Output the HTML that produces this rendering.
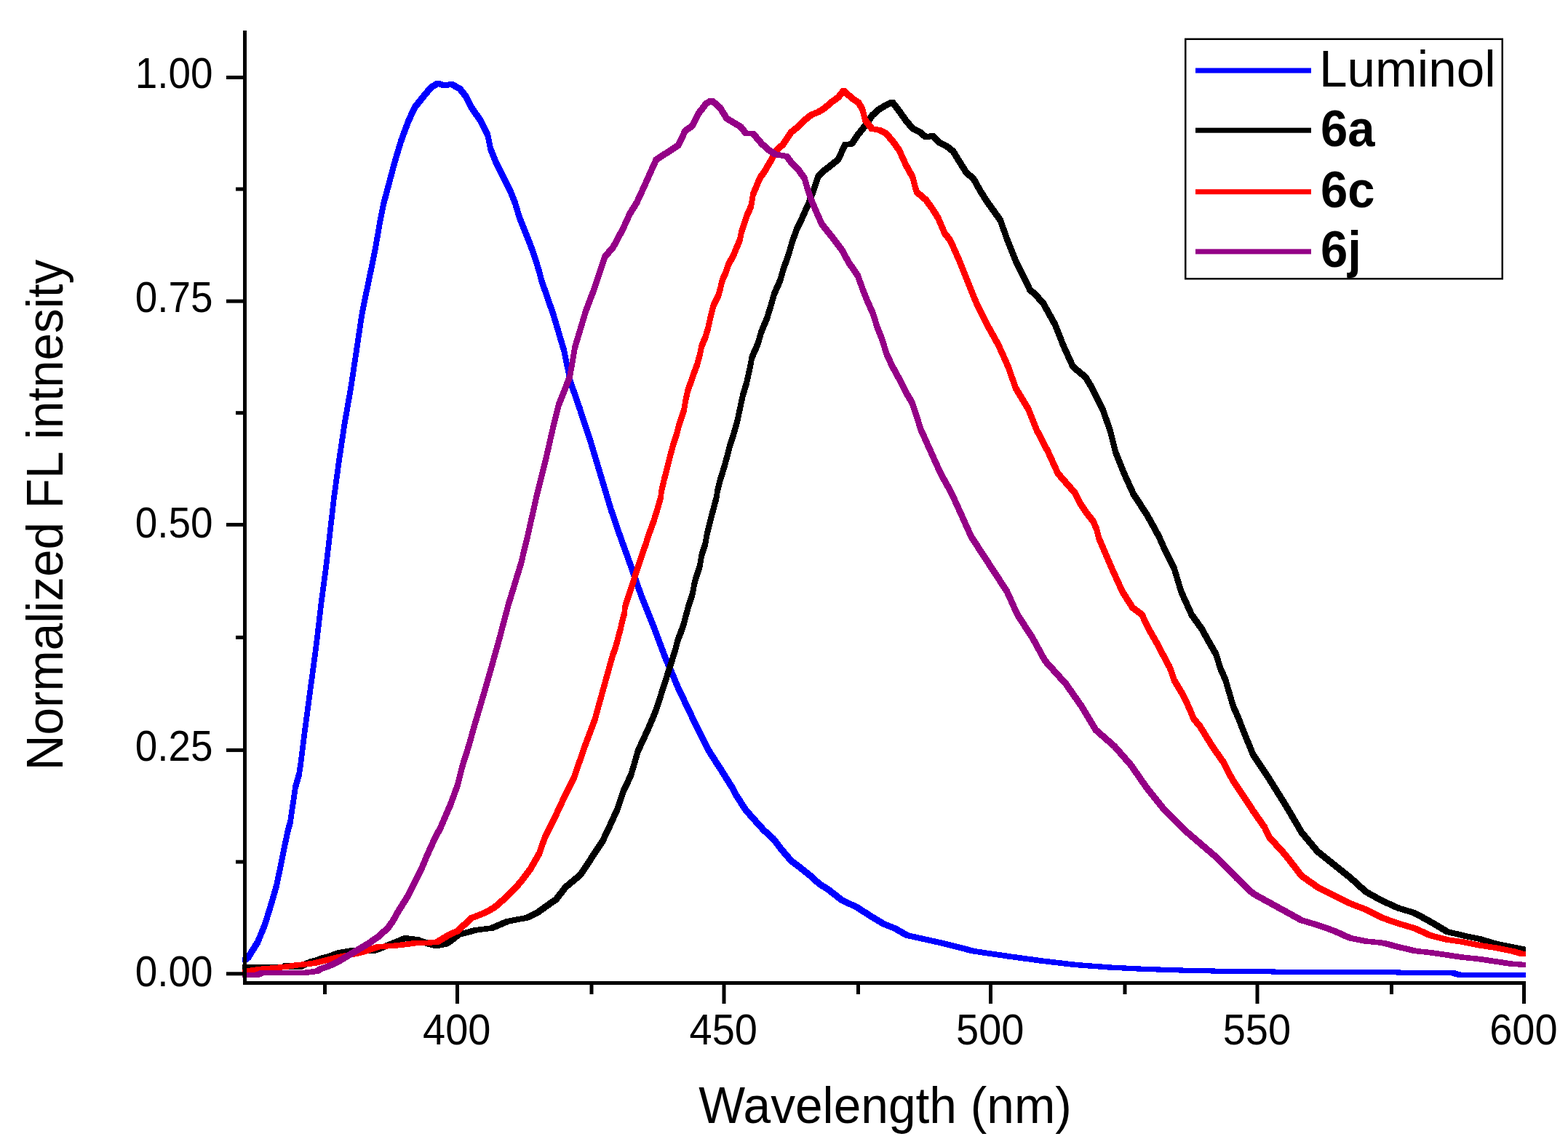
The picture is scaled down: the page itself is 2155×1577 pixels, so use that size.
<!DOCTYPE html>
<html><head><meta charset="utf-8"><title>Normalized FL intensity</title>
<style>html,body{margin:0;padding:0;background:#fff;}body{width:2155px;height:1577px;overflow:hidden;}svg{display:block;}text{font-family:"Liberation Sans",Arial,sans-serif;fill:#000;}</style></head><body>
<svg xmlns="http://www.w3.org/2000/svg" width="2155" height="1577" viewBox="0 0 2155 1577">
<rect x="0" y="0" width="2155" height="1577" fill="#fff"/>
<g shape-rendering="crispEdges">
<path d="M333 1317 333.5 1316.5 338 1313 344 1313 344.5 1313.5 344.5 1319.5 344 1320 339.5 1323.5 333.5 1323.5 333 1323ZM337.5 1313.5 344 1303 344.5 1302.5 350.5 1302.5 351 1303 351 1309 344.5 1319.5 344 1320 338 1320 337.5 1319.5ZM344 1303 350.9 1292 351.4 1291.5 357.4 1291.5 357.9 1292 357.9 1298 351 1309 350.5 1309.5 344.5 1309.5 344 1309ZM350.9 1292 361.1 1266.6 361.6 1266.1 367.6 1266.1 368.1 1266.6 368.1 1272.6 357.9 1298 357.4 1298.5 351.4 1298.5 350.9 1298ZM361.1 1266.6 368.9 1241.2 369.4 1240.7 375.4 1240.7 375.9 1241.2 375.9 1247.2 368.1 1272.6 367.6 1273.1 361.6 1273.1 361.1 1272.6ZM368.9 1241.2 376.3 1215.8 376.8 1215.3 382.8 1215.3 383.3 1215.8 383.3 1221.8 375.9 1247.2 375.4 1247.7 369.4 1247.7 368.9 1247.2ZM376.3 1215.8 381.6 1190.5 382.1 1190 388.1 1190 388.6 1190.5 388.6 1196.5 383.3 1221.8 382.8 1222.3 376.8 1222.3 376.3 1221.8ZM381.6 1190.5 386.7 1165 387.2 1164.5 393.2 1164.5 393.7 1165 393.7 1171 388.6 1196.5 388.1 1197 382.1 1197 381.6 1196.5ZM386.7 1165 392.1 1139.7 392.6 1139.2 398.6 1139.2 399.1 1139.7 399.1 1145.7 393.7 1171 393.2 1171.5 387.2 1171.5 386.7 1171ZM392.1 1139.7 395.5 1127 396 1126.5 402 1126.5 402.5 1127 402.5 1133 399.1 1145.7 398.6 1146.2 392.6 1146.2 392.1 1145.7ZM395.5 1127 402.5 1079 403 1078.5 409 1078.5 409.5 1079 409.5 1085 402.5 1133 402 1133.5 396 1133.5 395.5 1133ZM402.5 1079 407.5 1061.8 408 1061.3 414 1061.3 414.5 1061.8 414.5 1067.8 409.5 1085 409 1085.5 403 1085.5 402.5 1085ZM407.5 1061.8 409.8 1047 410.3 1046.5 416.3 1046.5 416.8 1047 416.8 1053 414.5 1067.8 414 1068.3 408 1068.3 407.5 1067.8ZM409.8 1047 415.3 1002.9 415.8 1002.4 421.8 1002.4 422.3 1002.9 422.3 1008.9 416.8 1053 416.3 1053.5 410.3 1053.5 409.8 1053ZM415.3 1002.9 423.2 943.9 423.7 943.4 429.7 943.4 430.2 943.9 430.2 949.9 422.3 1008.9 421.8 1009.4 415.8 1009.4 415.3 1008.9ZM423.2 943.9 431.1 885 431.6 884.5 437.6 884.5 438.1 885 438.1 891 430.2 949.9 429.7 950.4 423.7 950.4 423.2 949.9ZM431.1 885 438 826 438.5 825.5 444.5 825.5 445 826 445 832 438.1 891 437.6 891.5 431.6 891.5 431.1 891ZM438 826 445.2 772 445.7 771.5 451.7 771.5 452.2 772 452.2 778 445 832 444.5 832.5 438.5 832.5 438 832ZM445.2 772 449.7 732.1 450.2 731.6 456.2 731.6 456.7 732.1 456.7 738.1 452.2 778 451.7 778.5 445.7 778.5 445.2 778ZM449.7 732.1 455.5 681.4 456 680.9 462 680.9 462.5 681.4 462.5 687.4 456.7 738.1 456.2 738.6 450.2 738.6 449.7 738.1ZM455.5 681.4 462.4 630.6 462.9 630.1 468.9 630.1 469.4 630.6 469.4 636.6 462.5 687.4 462 687.9 456 687.9 455.5 687.4ZM462.4 630.6 470 579.9 470.5 579.4 476.5 579.4 477 579.9 477 585.9 469.4 636.6 468.9 637.1 462.9 637.1 462.4 636.6ZM470 579.9 478.9 529.2 479.4 528.7 485.4 528.7 485.9 529.2 485.9 535.2 477 585.9 476.5 586.4 470.5 586.4 470 585.9ZM478.9 529.2 486.5 478.5 487 478 493 478 493.5 478.5 493.5 484.5 485.9 535.2 485.4 535.7 479.4 535.7 478.9 535.2ZM486.5 478.5 494.1 427.7 494.6 427.2 500.6 427.2 501.1 427.7 501.1 433.7 493.5 484.5 493 485 487 485 486.5 484.5ZM494.1 427.7 503.5 382 504 381.5 510 381.5 510.5 382 510.5 388 501.1 433.7 500.6 434.2 494.6 434.2 494.1 433.7ZM503.5 382 507.5 362.8 508 362.3 514 362.3 514.5 362.8 514.5 368.8 510.5 388 510 388.5 504 388.5 503.5 388ZM507.5 362.8 513.2 334.3 513.7 333.8 519.7 333.8 520.2 334.3 520.2 340.3 514.5 368.8 514 369.3 508 369.3 507.5 368.8ZM513.2 334.3 518 305.8 518.5 305.3 524.5 305.3 525 305.8 525 311.8 520.2 340.3 519.7 340.8 513.7 340.8 513.2 340.3ZM518 305.8 523.7 277.2 524.2 276.7 530.2 276.7 530.7 277.2 530.7 283.2 525 311.8 524.5 312.3 518.5 312.3 518 311.8ZM523.7 277.2 531.3 248.7 531.8 248.2 537.8 248.2 538.3 248.7 538.3 254.7 530.7 283.2 530.2 283.7 524.2 283.7 523.7 283.2ZM531.3 248.7 538.9 220.2 539.4 219.7 545.4 219.7 545.9 220.2 545.9 226.2 538.3 254.7 537.8 255.2 531.8 255.2 531.3 254.7ZM538.9 220.2 547.4 191.6 547.9 191.1 553.9 191.1 554.4 191.6 554.4 197.6 545.9 226.2 545.4 226.7 539.4 226.7 538.9 226.2ZM547.4 191.6 557.9 163.1 558.4 162.6 564.4 162.6 564.9 163.1 564.9 169.1 554.4 197.6 553.9 198.1 547.9 198.1 547.4 197.6ZM557.9 163.1 566.9 144.1 567.4 143.6 573.4 143.6 573.9 144.1 573.9 150.1 564.9 169.1 564.4 169.6 558.4 169.6 557.9 169.1ZM566.9 144.1 579.2 128.8 579.7 128.3 585.7 128.3 586.2 128.8 586.2 134.8 573.9 150.1 573.4 150.6 567.4 150.6 566.9 150.1ZM579.2 128.8 588.7 117.4 589.2 116.9 595.2 116.9 595.7 117.4 595.7 123.4 586.2 134.8 585.7 135.3 579.7 135.3 579.2 134.8ZM588.7 117.4 589.2 116.9 598.7 111.2 604.7 111.2 605.2 111.7 605.2 117.7 604.7 118.2 595.2 123.9 589.2 123.9 588.7 123.4ZM598.2 111.7 598.7 111.2 604.7 111.2 614.3 114.1 614.8 114.6 614.8 120.6 614.3 121.1 608.3 121.1 598.7 118.2 598.2 117.7ZM607.8 114.6 608.3 114.1 617.8 112.2 623.8 112.2 624.3 112.7 624.3 118.7 623.8 119.2 614.3 121.1 608.3 121.1 607.8 120.6ZM617.3 112.7 617.8 112.2 623.8 112.2 635.2 118.8 635.7 119.3 635.7 125.3 635.2 125.8 629.2 125.8 617.8 119.2 617.3 118.7ZM628.7 119.3 629.2 118.8 635.2 118.8 635.7 119.3 643.3 128.8 643.3 134.8 642.8 135.3 636.8 135.3 636.3 134.8 628.7 125.3ZM636.3 128.8 636.8 128.3 642.8 128.3 643.3 128.8 650.9 144.1 650.9 150.1 650.4 150.6 644.4 150.6 643.9 150.1 636.3 134.8ZM643.9 144.1 644.4 143.6 650.4 143.6 650.9 144.1 664.2 163.1 664.2 169.1 663.7 169.6 657.7 169.6 657.2 169.1 643.9 150.1ZM657.2 163.1 657.7 162.6 663.7 162.6 664.2 163.1 673.7 182.1 673.7 188.1 673.2 188.6 667.2 188.6 666.7 188.1 657.2 169.1ZM666.7 182.1 667.2 181.6 673.2 181.6 673.7 182.1 677.5 201.1 677.5 207.1 677 207.6 671 207.6 670.5 207.1 666.7 188.1ZM670.5 201.1 671 200.6 677 200.6 677.5 201.1 685.1 220.2 685.1 226.2 684.6 226.7 678.6 226.7 678.1 226.2 670.5 207.1ZM678.1 220.2 678.6 219.7 684.6 219.7 685.1 220.2 694.6 239.2 694.6 245.2 694.1 245.7 688.1 245.7 687.6 245.2 678.1 226.2ZM687.6 239.2 688.1 238.7 694.1 238.7 694.6 239.2 704.2 258.2 704.2 264.2 703.7 264.7 697.7 264.7 697.2 264.2 687.6 245.2ZM697.2 258.2 697.7 257.7 703.7 257.7 704.2 258.2 711.8 277.2 711.8 283.2 711.3 283.7 705.3 283.7 704.8 283.2 697.2 264.2ZM704.8 277.2 705.3 276.7 711.3 276.7 711.8 277.2 717.5 296.2 717.5 302.2 717 302.7 711 302.7 710.5 302.2 704.8 283.2ZM710.5 296.2 711 295.7 717 295.7 717.5 296.2 725.1 315.3 725.1 321.3 724.6 321.8 718.6 321.8 718.1 321.3 710.5 302.2ZM718.1 315.3 718.6 314.8 724.6 314.8 725.1 315.3 732.7 334.3 732.7 340.3 732.2 340.8 726.2 340.8 725.7 340.3 718.1 321.3ZM725.7 334.3 726.2 333.8 732.2 333.8 732.7 334.3 739.4 353.3 739.4 359.3 738.9 359.8 732.9 359.8 732.4 359.3 725.7 340.3ZM732.4 353.3 732.9 352.8 738.9 352.8 739.4 353.3 745.1 372.3 745.1 378.3 744.6 378.8 738.6 378.8 738.1 378.3 732.4 359.3ZM738.1 372.3 738.6 371.8 744.6 371.8 745.1 372.3 747.5 382 747.5 388 747 388.5 741 388.5 740.5 388 738.1 378.3ZM740.5 382 741 381.5 747 381.5 747.5 382 763.4 427.7 763.4 433.7 762.9 434.2 756.9 434.2 756.4 433.7 740.5 388ZM756.4 427.7 756.9 427.2 762.9 427.2 763.4 427.7 778.6 478.5 778.6 484.5 778.1 485 772.1 485 771.6 484.5 756.4 433.7ZM771.6 478.5 772.1 478 778.1 478 778.6 478.5 787.5 522 787.5 528 787 528.5 781 528.5 780.5 528 771.6 484.5ZM780.5 522 781 521.5 787 521.5 787.5 522 800.6 559.7 800.6 565.7 800.1 566.2 794.1 566.2 793.6 565.7 780.5 528ZM793.6 559.7 794.1 559.2 800.1 559.2 800.6 559.7 815.5 605.4 815.5 611.4 815 611.9 809 611.9 808.5 611.4 793.6 565.7ZM808.5 605.4 809 604.9 815 604.9 815.5 605.4 829.2 651 829.2 657 828.7 657.5 822.7 657.5 822.2 657 808.5 611.4ZM822.2 651 822.7 650.5 828.7 650.5 829.2 651 842.9 696.7 842.9 702.7 842.4 703.2 836.4 703.2 835.9 702.7 822.2 657ZM835.9 696.7 836.4 696.2 842.4 696.2 842.9 696.7 855 732 855 738 854.5 738.5 848.5 738.5 848 738 835.9 702.7ZM848 732 848.5 731.5 854.5 731.5 855 732 868.7 770.1 868.7 776.1 868.2 776.6 862.2 776.6 861.7 776.1 848 738ZM861.7 770.1 862.2 769.6 868.2 769.6 868.7 770.1 883.8 813.2 883.8 819.2 883.3 819.7 877.3 819.7 876.8 819.2 861.7 776.1ZM876.8 813.2 877.3 812.7 883.3 812.7 883.8 813.2 901 856.4 901 862.4 900.5 862.9 894.5 862.9 894 862.4 876.8 819.2ZM894 856.4 894.5 855.9 900.5 855.9 901 856.4 917.2 899.5 917.2 905.5 916.7 906 910.7 906 910.2 905.5 894 862.4ZM910.2 899.5 910.7 899 916.7 899 917.2 899.5 935.5 942.6 935.5 948.6 935 949.1 929 949.1 928.5 948.6 910.2 905.5ZM928.5 942.6 929 942.1 935 942.1 935.5 942.6 956 985.7 956 991.7 955.5 992.2 949.5 992.2 949 991.7 928.5 948.6ZM949 985.7 949.5 985.2 955.5 985.2 956 985.7 977.5 1028.9 977.5 1034.9 977 1035.4 971 1035.4 970.5 1034.9 949 991.7ZM970.5 1028.9 971 1028.4 977 1028.4 977.5 1028.9 995.5 1057 995.5 1063 995 1063.5 989 1063.5 988.5 1063 970.5 1034.9ZM988.5 1057 989 1056.5 995 1056.5 995.5 1057 1009.5 1079.3 1009.5 1085.3 1009 1085.8 1003 1085.8 1002.5 1085.3 988.5 1063ZM1002.5 1079.3 1003 1078.8 1009 1078.8 1009.5 1079.3 1015.2 1090.2 1015.2 1096.2 1014.7 1096.7 1008.7 1096.7 1008.2 1096.2 1002.5 1085.3ZM1008.2 1090.2 1008.7 1089.7 1014.7 1089.7 1015.2 1090.2 1027.9 1109.9 1027.9 1115.9 1027.4 1116.4 1021.4 1116.4 1020.9 1115.9 1008.2 1096.2ZM1020.9 1109.9 1021.4 1109.4 1027.4 1109.4 1027.9 1109.9 1040.6 1124.5 1040.6 1130.5 1040.1 1131 1034.1 1131 1033.6 1130.5 1020.9 1115.9ZM1033.6 1124.5 1034.1 1124 1040.1 1124 1040.6 1124.5 1053.2 1138.4 1053.2 1144.4 1052.7 1144.9 1046.7 1144.9 1046.2 1144.4 1033.6 1130.5ZM1046.2 1138.4 1046.7 1137.9 1052.7 1137.9 1065.4 1149.3 1065.9 1149.8 1065.9 1155.8 1065.4 1156.3 1059.4 1156.3 1046.7 1144.9 1046.2 1144.4ZM1058.9 1149.8 1059.4 1149.3 1065.4 1149.3 1065.9 1149.8 1078.6 1166.3 1078.6 1172.3 1078.1 1172.8 1072.1 1172.8 1071.6 1172.3 1058.9 1155.8ZM1071.6 1166.3 1072.1 1165.8 1078.1 1165.8 1078.6 1166.3 1091.3 1180.9 1091.3 1186.9 1090.8 1187.4 1084.8 1187.4 1084.3 1186.9 1071.6 1172.3ZM1084.3 1180.9 1084.8 1180.4 1090.8 1180.4 1103.4 1189.9 1103.9 1190.4 1103.9 1196.4 1103.4 1196.9 1097.4 1196.9 1084.8 1187.4 1084.3 1186.9ZM1096.9 1190.4 1097.4 1189.9 1103.4 1189.9 1116.1 1200.1 1116.6 1200.6 1116.6 1206.6 1116.1 1207.1 1110.1 1207.1 1097.4 1196.9 1096.9 1196.4ZM1109.6 1200.6 1110.1 1200.1 1116.1 1200.1 1128.8 1211.5 1129.3 1212 1129.3 1218 1128.8 1218.5 1122.8 1218.5 1110.1 1207.1 1109.6 1206.6ZM1122.3 1212 1122.8 1211.5 1128.8 1211.5 1141.5 1219.7 1142 1220.2 1142 1226.2 1141.5 1226.7 1135.5 1226.7 1122.8 1218.5 1122.3 1218ZM1135 1220.2 1135.5 1219.7 1141.5 1219.7 1161 1234.8 1161.5 1235.3 1161.5 1241.3 1161 1241.8 1155 1241.8 1135.5 1226.7 1135 1226.2ZM1154.5 1235.3 1155 1234.8 1161 1234.8 1180 1243.4 1180.5 1243.9 1180.5 1249.9 1180 1250.4 1174 1250.4 1155 1241.8 1154.5 1241.3ZM1173.5 1243.9 1174 1243.4 1180 1243.4 1199 1255.7 1199.5 1256.2 1199.5 1262.2 1199 1262.7 1193 1262.7 1174 1250.4 1173.5 1249.9ZM1192.5 1256.2 1193 1255.7 1199 1255.7 1218 1267.1 1218.5 1267.6 1218.5 1273.6 1218 1274.1 1212 1274.1 1193 1262.7 1192.5 1262.2ZM1211.5 1267.6 1212 1267.1 1218 1267.1 1233 1272.9 1233.5 1273.4 1233.5 1279.4 1233 1279.9 1227 1279.9 1212 1274.1 1211.5 1273.6ZM1226.5 1273.4 1227 1272.9 1233 1272.9 1249 1282.3 1249.5 1282.8 1249.5 1288.8 1249 1289.3 1243 1289.3 1227 1279.9 1226.5 1279.4ZM1242.5 1282.8 1243 1282.3 1249 1282.3 1296 1292.8 1296.5 1293.3 1296.5 1299.3 1296 1299.8 1290 1299.8 1243 1289.3 1242.5 1288.8ZM1289.5 1293.3 1290 1292.8 1296 1292.8 1342 1304.4 1342.5 1304.9 1342.5 1310.9 1342 1311.4 1336 1311.4 1290 1299.8 1289.5 1299.3ZM1335.5 1304.9 1336 1304.4 1342 1304.4 1389 1311.3 1389.5 1311.8 1389.5 1317.8 1389 1318.3 1383 1318.3 1336 1311.4 1335.5 1310.9ZM1382.5 1311.8 1383 1311.3 1389 1311.3 1435 1317.6 1435.5 1318.1 1435.5 1324.1 1435 1324.6 1429 1324.6 1383 1318.3 1382.5 1317.8ZM1428.5 1318.1 1429 1317.6 1435 1317.6 1481 1323 1481.5 1323.5 1481.5 1329.5 1481 1330 1475 1330 1429 1324.6 1428.5 1324.1ZM1474.5 1323.5 1475 1323 1481 1323 1528 1326.5 1528.5 1327 1528.5 1333 1528 1333.5 1522 1333.5 1475 1330 1474.5 1329.5ZM1521.5 1327 1522 1326.5 1528 1326.5 1574 1328.8 1574.5 1329.3 1574.5 1335.3 1574 1335.8 1568 1335.8 1522 1333.5 1521.5 1333ZM1567.5 1329.3 1568 1328.8 1574 1328.8 1644 1331.1 1644.5 1331.6 1644.5 1337.6 1644 1338.1 1638 1338.1 1568 1335.8 1567.5 1335.3ZM1637.5 1331.6 1638 1331.1 1644 1331.1 1703 1332 1703.5 1332.5 1703.5 1338.5 1703 1339 1697 1339 1638 1338.1 1637.5 1337.6ZM1696.5 1332.5 1697 1332 1703 1332 1803 1333 1803.5 1333.5 1803.5 1339.5 1803 1340 1797 1340 1697 1339 1696.5 1338.5ZM1796.5 1333.5 1797 1333 1803 1333 1998 1333.8 1998.5 1334.3 1998.5 1340.3 1998 1340.8 1992 1340.8 1797 1340 1796.5 1339.5ZM1991.5 1334.3 1992 1333.8 1998 1333.8 2008 1336.5 2008.5 1337 2008.5 1343 2008 1343.5 2002 1343.5 1992 1340.8 1991.5 1340.3ZM2001.5 1337 2002 1336.5 2096.5 1336.5 2097 1337 2097 1343 2096.5 1343.5 2002 1343.5 2001.5 1343Z" fill="#0000ff"/>
<path d="M332.8 1326.6 333.3 1326.1 393 1326.1 393.5 1326.6 393.5 1332.6 393 1333.1 333.3 1333.1 332.8 1332.6ZM386.5 1326.6 387 1326.1 390 1323.5 396 1323.5 396.5 1324 396.5 1330 396 1330.5 393 1333.1 387 1333.1 386.5 1332.6ZM389.5 1324 390 1323.5 400.6 1323.5 401.1 1324 401.1 1330 400.6 1330.5 390 1330.5 389.5 1330ZM394.1 1324 394.6 1323.5 400.6 1323.5 401.1 1324 403.5 1326.6 403.5 1332.6 403 1333.1 397 1333.1 396.5 1332.6 394.1 1330ZM396.5 1326.6 397 1326.1 410 1325.5 416 1325.5 416.5 1326 416.5 1332 416 1332.5 403 1333.1 397 1333.1 396.5 1332.6ZM409.5 1326 410 1325.5 418 1321.3 424 1321.3 424.5 1321.8 424.5 1327.8 424 1328.3 416 1332.5 410 1332.5 409.5 1332ZM417.5 1321.8 418 1321.3 426 1318.3 432 1318.3 432.5 1318.8 432.5 1324.8 432 1325.3 424 1328.3 418 1328.3 417.5 1327.8ZM425.5 1318.8 426 1318.3 434 1316.1 440 1316.1 440.5 1316.6 440.5 1322.6 440 1323.1 432 1325.3 426 1325.3 425.5 1324.8ZM433.5 1316.6 434 1316.1 441 1313.4 447 1313.4 447.5 1313.9 447.5 1319.9 447 1320.4 440 1323.1 434 1323.1 433.5 1322.6ZM440.5 1313.9 441 1313.4 451 1311 457 1311 457.5 1311.5 457.5 1317.5 457 1318 447 1320.4 441 1320.4 440.5 1319.9ZM450.5 1311.5 451 1311 457 1308.5 463 1308.5 463.5 1309 463.5 1315 463 1315.5 457 1318 451 1318 450.5 1317.5ZM456.5 1309 457 1308.5 463.6 1306.3 469.6 1306.3 470.1 1306.8 470.1 1312.8 469.6 1313.3 463 1315.5 457 1315.5 456.5 1315ZM463.1 1306.8 463.6 1306.3 483.6 1302.9 489.6 1302.9 490.1 1303.4 490.1 1309.4 489.6 1309.9 469.6 1313.3 463.6 1313.3 463.1 1312.8ZM483.1 1303.4 483.6 1302.9 489.6 1302.9 516.2 1304 516.7 1304.5 516.7 1310.5 516.2 1311 510.2 1311 483.6 1309.9 483.1 1309.4ZM509.7 1304.5 510.2 1304 527 1297.5 533 1297.5 533.5 1298 533.5 1304 533 1304.5 516.2 1311 510.2 1311 509.7 1310.5ZM526.5 1298 527 1297.5 543.5 1290.9 549.5 1290.9 550 1291.4 550 1297.4 549.5 1297.9 533 1304.5 527 1304.5 526.5 1304ZM543 1291.4 543.5 1290.9 554.2 1286.3 560.2 1286.3 560.7 1286.8 560.7 1292.8 560.2 1293.3 549.5 1297.9 543.5 1297.9 543 1297.4ZM553.7 1286.8 554.2 1286.3 560.2 1286.3 576.1 1288.3 576.6 1288.8 576.6 1294.8 576.1 1295.3 570.1 1295.3 554.2 1293.3 553.7 1292.8ZM569.6 1288.8 570.1 1288.3 576.1 1288.3 593 1294.5 593.5 1295 593.5 1301 593 1301.5 587 1301.5 570.1 1295.3 569.6 1294.8ZM586.5 1295 587 1294.5 593 1294.5 602.8 1296.9 603.3 1297.4 603.3 1303.4 602.8 1303.9 596.8 1303.9 587 1301.5 586.5 1301ZM596.3 1297.4 596.8 1296.9 610.1 1294.3 616.1 1294.3 616.6 1294.8 616.6 1300.8 616.1 1301.3 602.8 1303.9 596.8 1303.9 596.3 1303.4ZM609.6 1294.8 610.1 1294.3 617 1289.6 623 1289.6 623.5 1290.1 623.5 1296.1 623 1296.6 616.1 1301.3 610.1 1301.3 609.6 1300.8ZM616.5 1290.1 617 1289.6 627 1281.5 633 1281.5 633.5 1282 633.5 1288 633 1288.5 623 1296.6 617 1296.6 616.5 1296.1ZM626.5 1282 627 1281.5 651.9 1275.1 657.9 1275.1 658.4 1275.6 658.4 1281.6 657.9 1282.1 633 1288.5 627 1288.5 626.5 1288ZM651.4 1275.6 651.9 1275.1 672.8 1272.6 678.8 1272.6 679.3 1273.1 679.3 1279.1 678.8 1279.6 657.9 1282.1 651.9 1282.1 651.4 1281.6ZM672.3 1273.1 672.8 1272.6 693.7 1263.6 699.7 1263.6 700.2 1264.1 700.2 1270.1 699.7 1270.6 678.8 1279.6 672.8 1279.6 672.3 1279.1ZM693.2 1264.1 693.7 1263.6 707.7 1260.8 713.7 1260.8 714.2 1261.3 714.2 1267.3 713.7 1267.8 699.7 1270.6 693.7 1270.6 693.2 1270.1ZM707.2 1261.3 707.7 1260.8 721.6 1258.3 727.6 1258.3 728.1 1258.8 728.1 1264.8 727.6 1265.3 713.7 1267.8 707.7 1267.8 707.2 1267.3ZM721.1 1258.8 721.6 1258.3 735.6 1251.2 741.6 1251.2 742.1 1251.7 742.1 1257.7 741.6 1258.2 727.6 1265.3 721.6 1265.3 721.1 1264.8ZM735.1 1251.7 735.6 1251.2 749.5 1241.2 755.5 1241.2 756 1241.7 756 1247.7 755.5 1248.2 741.6 1258.2 735.6 1258.2 735.1 1257.7ZM749 1241.7 749.5 1241.2 761 1233.4 767 1233.4 767.5 1233.9 767.5 1239.9 767 1240.4 755.5 1248.2 749.5 1248.2 749 1247.7ZM760.5 1233.9 773.9 1216.7 774.4 1216.2 780.4 1216.2 780.9 1216.7 780.9 1222.7 767.5 1239.9 767 1240.4 761 1240.4 760.5 1239.9ZM773.9 1216.7 774.4 1216.2 794.9 1199.1 800.9 1199.1 801.4 1199.6 801.4 1205.6 800.9 1206.1 780.4 1223.2 774.4 1223.2 773.9 1222.7ZM794.4 1199.6 809.3 1176.8 809.8 1176.3 815.8 1176.3 816.3 1176.8 816.3 1182.8 801.4 1205.6 800.9 1206.1 794.9 1206.1 794.4 1205.6ZM809.3 1176.8 824.4 1154 824.9 1153.5 830.9 1153.5 831.4 1154 831.4 1160 816.3 1182.8 815.8 1183.3 809.8 1183.3 809.3 1182.8ZM824.4 1154 835.2 1131.2 835.7 1130.7 841.7 1130.7 842.2 1131.2 842.2 1137.2 831.4 1160 830.9 1160.5 824.9 1160.5 824.4 1160ZM835.2 1131.2 845.5 1108.3 846 1107.8 852 1107.8 852.5 1108.3 852.5 1114.3 842.2 1137.2 841.7 1137.7 835.7 1137.7 835.2 1137.2ZM845.5 1108.3 852.9 1085.5 853.4 1085 859.4 1085 859.9 1085.5 859.9 1091.5 852.5 1114.3 852 1114.8 846 1114.8 845.5 1114.3ZM852.9 1085.5 863.7 1062.7 864.2 1062.2 870.2 1062.2 870.7 1062.7 870.7 1068.7 859.9 1091.5 859.4 1092 853.4 1092 852.9 1091.5ZM863.7 1062.7 873.5 1028.9 874 1028.4 880 1028.4 880.5 1028.9 880.5 1034.9 870.7 1068.7 870.2 1069.2 864.2 1069.2 863.7 1068.7ZM873.5 1028.9 879.9 1015.5 880.4 1015 886.4 1015 886.9 1015.5 886.9 1021.5 880.5 1034.9 880 1035.4 874 1035.4 873.5 1034.9ZM879.9 1015.5 889.6 994 890.1 993.5 896.1 993.5 896.6 994 896.6 1000 886.9 1021.5 886.4 1022 880.4 1022 879.9 1021.5ZM889.6 994 898.5 972.4 899 971.9 905 971.9 905.5 972.4 905.5 978.4 896.6 1000 896.1 1000.5 890.1 1000.5 889.6 1000ZM898.5 972.4 908 942.6 908.5 942.1 914.5 942.1 915 942.6 915 948.6 905.5 978.4 905 978.9 899 978.9 898.5 978.4ZM908 942.6 924.3 891.7 924.8 891.2 930.8 891.2 931.3 891.7 931.3 897.7 915 948.6 914.5 949.1 908.5 949.1 908 948.6ZM924.3 891.7 928.1 877 928.6 876.5 934.6 876.5 935.1 877 935.1 883 931.3 897.7 930.8 898.2 924.8 898.2 924.3 897.7ZM928.1 877 932.5 865.5 933 865 939 865 939.5 865.5 939.5 871.5 935.1 883 934.6 883.5 928.6 883.5 928.1 883ZM932.5 865.5 936.5 854.1 937 853.6 943 853.6 943.5 854.1 943.5 860.1 939.5 871.5 939 872 933 872 932.5 871.5ZM936.5 854.1 938.9 844.6 939.4 844.1 945.4 844.1 945.9 844.6 945.9 850.6 943.5 860.1 943 860.6 937 860.6 936.5 860.1ZM938.9 844.6 942.8 830.3 943.3 829.8 949.3 829.8 949.8 830.3 949.8 836.3 945.9 850.6 945.4 851.1 939.4 851.1 938.9 850.6ZM942.8 830.3 948 815 948.5 814.5 954.5 814.5 955 815 955 821 949.8 836.3 949.3 836.8 943.3 836.8 942.8 836.3ZM948 815 950.8 799.8 951.3 799.3 957.3 799.3 957.8 799.8 957.8 805.8 955 821 954.5 821.5 948.5 821.5 948 821ZM950.8 799.8 953 791.2 953.5 790.7 959.5 790.7 960 791.2 960 797.2 957.8 805.8 957.3 806.3 951.3 806.3 950.8 805.8ZM953 791.2 958.1 775.9 958.6 775.4 964.6 775.4 965.1 775.9 965.1 781.9 960 797.2 959.5 797.7 953.5 797.7 953 797.2ZM958.1 775.9 960.8 760.7 961.3 760.2 967.3 760.2 967.8 760.7 967.8 766.7 965.1 781.9 964.6 782.4 958.6 782.4 958.1 781.9ZM960.8 760.7 965.7 745.5 966.2 745 972.2 745 972.7 745.5 972.7 751.5 967.8 766.7 967.3 767.2 961.3 767.2 960.8 766.7ZM965.7 745.5 968.4 730.3 968.9 729.8 974.9 729.8 975.4 730.3 975.4 736.3 972.7 751.5 972.2 752 966.2 752 965.7 751.5ZM968.4 730.3 972.2 715 972.7 714.5 978.7 714.5 979.2 715 979.2 721 975.4 736.3 974.9 736.8 968.9 736.8 968.4 736.3ZM972.2 715 976.2 699.8 976.7 699.3 982.7 699.3 983.2 699.8 983.2 705.8 979.2 721 978.7 721.5 972.7 721.5 972.2 721ZM976.2 699.8 981.3 680.8 981.8 680.3 987.8 680.3 988.3 680.8 988.3 686.8 983.2 705.8 982.7 706.3 976.7 706.3 976.2 705.8ZM981.3 680.8 982.7 671.2 983.2 670.7 989.2 670.7 989.7 671.2 989.7 677.2 988.3 686.8 987.8 687.3 981.8 687.3 981.3 686.8ZM982.7 671.2 986.5 655.9 987 655.4 993 655.4 993.5 655.9 993.5 661.9 989.7 677.2 989.2 677.7 983.2 677.7 982.7 677.2ZM986.5 655.9 991.4 640.7 991.9 640.2 997.9 640.2 998.4 640.7 998.4 646.7 993.5 661.9 993 662.4 987 662.4 986.5 661.9ZM991.4 640.7 995.6 625.5 996.1 625 1002.1 625 1002.6 625.5 1002.6 631.5 998.4 646.7 997.9 647.2 991.9 647.2 991.4 646.7ZM995.6 625.5 999.4 610.3 999.9 609.8 1005.9 609.8 1006.4 610.3 1006.4 616.3 1002.6 631.5 1002.1 632 996.1 632 995.6 631.5ZM999.4 610.3 1004.4 595 1004.9 594.5 1010.9 594.5 1011.4 595 1011.4 601 1006.4 616.3 1005.9 616.8 999.9 616.8 999.4 616.3ZM1004.4 595 1008.9 579.8 1009.4 579.3 1015.4 579.3 1015.9 579.8 1015.9 585.8 1011.4 601 1010.9 601.5 1004.9 601.5 1004.4 601ZM1008.9 579.8 1013.1 560.8 1013.6 560.3 1019.6 560.3 1020.1 560.8 1020.1 566.8 1015.9 585.8 1015.4 586.3 1009.4 586.3 1008.9 585.8ZM1013.1 560.8 1017.2 541.3 1017.7 540.8 1023.7 540.8 1024.2 541.3 1024.2 547.3 1020.1 566.8 1019.6 567.3 1013.6 567.3 1013.1 566.8ZM1017.2 541.3 1022.5 523.6 1023 523.1 1029 523.1 1029.5 523.6 1029.5 529.6 1024.2 547.3 1023.7 547.8 1017.7 547.8 1017.2 547.3ZM1022.5 523.6 1026.5 505.8 1027 505.3 1033 505.3 1033.5 505.8 1033.5 511.8 1029.5 529.6 1029 530.1 1023 530.1 1022.5 529.6ZM1026.5 505.8 1030 488 1030.5 487.5 1036.5 487.5 1037 488 1037 494 1033.5 511.8 1033 512.3 1027 512.3 1026.5 511.8ZM1030 488 1037.8 470.3 1038.3 469.8 1044.3 469.8 1044.8 470.3 1044.8 476.3 1037 494 1036.5 494.5 1030.5 494.5 1030 494ZM1037.8 470.3 1043.1 452.5 1043.6 452 1049.6 452 1050.1 452.5 1050.1 458.5 1044.8 476.3 1044.3 476.8 1038.3 476.8 1037.8 476.3ZM1043.1 452.5 1050.5 434.8 1051 434.3 1057 434.3 1057.5 434.8 1057.5 440.8 1050.1 458.5 1049.6 459 1043.6 459 1043.1 458.5ZM1050.5 434.8 1054.7 421.4 1055.2 420.9 1061.2 420.9 1061.7 421.4 1061.7 427.4 1057.5 440.8 1057 441.3 1051 441.3 1050.5 440.8ZM1054.7 421.4 1060.5 401.3 1061 400.8 1067 400.8 1067.5 401.3 1067.5 407.3 1061.7 427.4 1061.2 427.9 1055.2 427.9 1054.7 427.4ZM1060.5 401.3 1068.3 383.6 1068.8 383.1 1074.8 383.1 1075.3 383.6 1075.3 389.6 1067.5 407.3 1067 407.8 1061 407.8 1060.5 407.3ZM1068.3 383.6 1073.6 365.8 1074.1 365.3 1080.1 365.3 1080.6 365.8 1080.6 371.8 1075.3 389.6 1074.8 390.1 1068.8 390.1 1068.3 389.6ZM1073.6 365.8 1080 348 1080.5 347.5 1086.5 347.5 1087 348 1087 354 1080.6 371.8 1080.1 372.3 1074.1 372.3 1073.6 371.8ZM1080 348 1085.1 330.3 1085.6 329.8 1091.6 329.8 1092.1 330.3 1092.1 336.3 1087 354 1086.5 354.5 1080.5 354.5 1080 354ZM1085.1 330.3 1091.4 312.5 1091.9 312 1097.9 312 1098.4 312.5 1098.4 318.5 1092.1 336.3 1091.6 336.8 1085.6 336.8 1085.1 336.3ZM1091.4 312.5 1099.8 294.8 1100.3 294.3 1106.3 294.3 1106.8 294.8 1106.8 300.8 1098.4 318.5 1097.9 319 1091.9 319 1091.4 318.5ZM1099.8 294.8 1107.5 277.5 1108 277 1114 277 1114.5 277.5 1114.5 283.5 1106.8 300.8 1106.3 301.3 1100.3 301.3 1099.8 300.8ZM1107.5 277.5 1115.2 257 1115.7 256.5 1121.7 256.5 1122.2 257 1122.2 263 1114.5 283.5 1114 284 1108 284 1107.5 283.5ZM1115.2 257 1120.7 240.3 1121.2 239.8 1127.2 239.8 1127.7 240.3 1127.7 246.3 1122.2 263 1121.7 263.5 1115.7 263.5 1115.2 263ZM1120.7 240.3 1130 231 1130.5 230.5 1136.5 230.5 1137 231 1137 237 1127.7 246.3 1127.2 246.8 1121.2 246.8 1120.7 246.3ZM1130 231 1130.5 230.5 1139.8 223.1 1145.8 223.1 1146.3 223.6 1146.3 229.6 1145.8 230.1 1136.5 237.5 1130.5 237.5 1130 237ZM1139.3 223.6 1139.8 223.1 1149.1 215.7 1155.1 215.7 1155.6 216.2 1155.6 222.2 1155.1 222.7 1145.8 230.1 1139.8 230.1 1139.3 229.6ZM1148.6 216.2 1157.9 195.8 1158.4 195.3 1164.4 195.3 1164.9 195.8 1164.9 201.8 1155.6 222.2 1155.1 222.7 1149.1 222.7 1148.6 222.2ZM1157.9 195.8 1158.4 195.3 1167.6 194.4 1173.6 194.4 1174.1 194.9 1174.1 200.9 1173.6 201.4 1164.4 202.3 1158.4 202.3 1157.9 201.8ZM1167.1 194.9 1176.5 181 1177 180.5 1183 180.5 1183.5 181 1183.5 187 1174.1 200.9 1173.6 201.4 1167.6 201.4 1167.1 200.9ZM1176.5 181 1185.7 169.8 1186.2 169.3 1192.2 169.3 1192.7 169.8 1192.7 175.8 1183.5 187 1183 187.5 1177 187.5 1176.5 187ZM1185.7 169.8 1195 155.9 1195.5 155.4 1201.5 155.4 1202 155.9 1202 161.9 1192.7 175.8 1192.2 176.3 1186.2 176.3 1185.7 175.8ZM1195 155.9 1195.5 155.4 1204.8 147 1210.8 147 1211.3 147.5 1211.3 153.5 1210.8 154 1201.5 162.4 1195.5 162.4 1195 161.9ZM1204.3 147.5 1204.8 147 1214 141.5 1220 141.5 1220.5 142 1220.5 148 1220 148.5 1210.8 154 1204.8 154 1204.3 153.5ZM1213.5 142 1214 141.5 1223.3 136.8 1229.3 136.8 1229.8 137.3 1229.8 143.3 1229.3 143.8 1220 148.5 1214 148.5 1213.5 148ZM1222.8 137.3 1223.3 136.8 1229.3 136.8 1229.8 137.3 1239.1 149.4 1239.1 155.4 1238.6 155.9 1232.6 155.9 1232.1 155.4 1222.8 143.3ZM1232.1 149.4 1232.6 148.9 1238.6 148.9 1239.1 149.4 1248.4 162.4 1248.4 168.4 1247.9 168.9 1241.9 168.9 1241.4 168.4 1232.1 155.4ZM1241.4 162.4 1241.9 161.9 1247.9 161.9 1248.4 162.4 1257.7 173.5 1257.7 179.5 1257.2 180 1251.2 180 1250.7 179.5 1241.4 168.4ZM1250.7 173.5 1251.2 173 1257.2 173 1266.5 177.7 1267 178.2 1267 184.2 1266.5 184.7 1260.5 184.7 1251.2 180 1250.7 179.5ZM1260 178.2 1260.5 177.7 1266.5 177.7 1275.7 185.1 1276.2 185.6 1276.2 191.6 1275.7 192.1 1269.7 192.1 1260.5 184.7 1260 184.2ZM1269.2 185.6 1269.7 185.1 1279 183.2 1285 183.2 1285.5 183.7 1285.5 189.7 1285 190.2 1275.7 192.1 1269.7 192.1 1269.2 191.6ZM1278.5 183.7 1279 183.2 1285 183.2 1285.5 183.7 1294.8 193 1294.8 199 1294.3 199.5 1288.3 199.5 1287.8 199 1278.5 189.7ZM1287.8 193 1288.3 192.5 1294.3 192.5 1303.6 197.1 1304.1 197.6 1304.1 203.6 1303.6 204.1 1297.6 204.1 1288.3 199.5 1287.8 199ZM1297.1 197.6 1297.6 197.1 1303.6 197.1 1312.9 204.5 1313.4 205 1313.4 211 1312.9 211.5 1306.9 211.5 1297.6 204.1 1297.1 203.6ZM1306.4 205 1306.9 204.5 1312.9 204.5 1313.4 205 1322.6 220 1322.6 226 1322.1 226.5 1316.1 226.5 1315.6 226 1306.4 211ZM1315.6 220 1316.1 219.5 1322.1 219.5 1322.6 220 1331.9 234.8 1331.9 240.8 1331.4 241.3 1325.4 241.3 1324.9 240.8 1315.6 226ZM1324.9 234.8 1325.4 234.3 1331.4 234.3 1340.7 241.7 1341.2 242.2 1341.2 248.2 1340.7 248.7 1334.7 248.7 1325.4 241.3 1324.9 240.8ZM1334.2 242.2 1334.7 241.7 1340.7 241.7 1341.2 242.2 1350.5 258.9 1350.5 264.9 1350 265.4 1344 265.4 1343.5 264.9 1334.2 248.2ZM1343.5 258.9 1344 258.4 1350 258.4 1350.5 258.9 1359.8 273.8 1359.8 279.8 1359.3 280.3 1353.3 280.3 1352.8 279.8 1343.5 264.9ZM1352.8 273.8 1353.3 273.3 1359.3 273.3 1359.8 273.8 1369 286.7 1369 292.7 1368.5 293.2 1362.5 293.2 1362 292.7 1352.8 279.8ZM1362 286.7 1362.5 286.2 1368.5 286.2 1369 286.7 1378.3 299.7 1378.3 305.7 1377.8 306.2 1371.8 306.2 1371.3 305.7 1362 292.7ZM1371.3 299.7 1371.8 299.2 1377.8 299.2 1378.3 299.7 1387.7 326.2 1387.7 332.2 1387.2 332.7 1381.2 332.7 1380.7 332.2 1371.3 305.7ZM1380.7 326.2 1381.2 325.7 1387.2 325.7 1387.7 326.2 1399.3 355.3 1399.3 361.3 1398.8 361.8 1392.8 361.8 1392.3 361.3 1380.7 332.2ZM1392.3 355.3 1392.8 354.8 1398.8 354.8 1399.3 355.3 1413.9 384.5 1413.9 390.5 1413.4 391 1407.4 391 1406.9 390.5 1392.3 361.3ZM1406.9 384.5 1407.4 384 1413.4 384 1413.9 384.5 1418.6 394.8 1418.6 400.8 1418.1 401.3 1412.1 401.3 1411.6 400.8 1406.9 390.5ZM1411.6 394.8 1412.1 394.3 1418.1 394.3 1427.4 403.1 1427.9 403.6 1427.9 409.6 1427.4 410.1 1421.4 410.1 1412.1 401.3 1411.6 400.8ZM1420.9 403.6 1421.4 403.1 1427.4 403.1 1427.9 403.6 1437.2 413.7 1437.2 419.7 1436.7 420.2 1430.7 420.2 1430.2 419.7 1420.9 409.6ZM1430.2 413.7 1430.7 413.2 1436.7 413.2 1437.2 413.7 1453.3 442.8 1453.3 448.8 1452.8 449.3 1446.8 449.3 1446.3 448.8 1430.2 419.7ZM1446.3 442.8 1446.8 442.3 1452.8 442.3 1453.3 442.8 1464.9 472 1464.9 478 1464.4 478.5 1458.4 478.5 1457.9 478 1446.3 448.8ZM1457.9 472 1458.4 471.5 1464.4 471.5 1464.9 472 1478.1 501.1 1478.1 507.1 1477.6 507.6 1471.6 507.6 1471.1 507.1 1457.9 478ZM1471.1 501.1 1471.6 500.6 1477.6 500.6 1495 515.2 1495.5 515.7 1495.5 521.7 1495 522.2 1489 522.2 1471.6 507.6 1471.1 507.1ZM1488.5 515.7 1489 515.2 1495 515.2 1495.5 515.7 1504.3 530.3 1504.3 536.3 1503.8 536.8 1497.8 536.8 1497.3 536.3 1488.5 521.7ZM1497.3 530.3 1497.8 529.8 1503.8 529.8 1504.3 530.3 1518.9 559.5 1518.9 565.5 1518.4 566 1512.4 566 1511.9 565.5 1497.3 536.3ZM1511.9 559.5 1512.4 559 1518.4 559 1518.9 559.5 1529.1 588.6 1529.1 594.6 1528.6 595.1 1522.6 595.1 1522.1 594.6 1511.9 565.5ZM1522.1 588.6 1522.6 588.1 1528.6 588.1 1529.1 588.6 1536.4 617.8 1536.4 623.8 1535.9 624.3 1529.9 624.3 1529.4 623.8 1522.1 594.6ZM1529.4 617.8 1529.9 617.3 1535.9 617.3 1536.4 617.8 1548 647 1548 653 1547.5 653.5 1541.5 653.5 1541 653 1529.4 623.8ZM1541 647 1541.5 646.5 1547.5 646.5 1548 647 1561.2 676.1 1561.2 682.1 1560.7 682.6 1554.7 682.6 1554.2 682.1 1541 653ZM1554.2 676.1 1554.7 675.6 1560.7 675.6 1561.2 676.1 1580.1 705.3 1580.1 711.3 1579.6 711.8 1573.6 711.8 1573.1 711.3 1554.2 682.1ZM1573.1 705.3 1573.6 704.8 1579.6 704.8 1580.1 705.3 1596.2 734.4 1596.2 740.4 1595.7 740.9 1589.7 740.9 1589.2 740.4 1573.1 711.3ZM1589.2 734.4 1589.7 733.9 1595.7 733.9 1596.2 734.4 1604 752 1604 758 1603.5 758.5 1597.5 758.5 1597 758 1589.2 740.4ZM1597 752 1597.5 751.5 1603.5 751.5 1604 752 1617.3 778.7 1617.3 784.7 1616.8 785.2 1610.8 785.2 1610.3 784.7 1597 758ZM1610.3 778.7 1610.8 778.2 1616.8 778.2 1617.3 778.7 1626.8 810.4 1626.8 816.4 1626.3 816.9 1620.3 816.9 1619.8 816.4 1610.3 784.7ZM1619.8 810.4 1620.3 809.9 1626.3 809.9 1626.8 810.4 1641.1 842 1641.1 848 1640.6 848.5 1634.6 848.5 1634.1 848 1619.8 816.4ZM1634.1 842 1634.6 841.5 1640.6 841.5 1641.1 842 1655 861.4 1655 867.4 1654.5 867.9 1648.5 867.9 1648 867.4 1634.1 848ZM1648 861.4 1648.5 860.9 1654.5 860.9 1655 861.4 1664.8 879.2 1664.8 885.2 1664.3 885.7 1658.3 885.7 1657.8 885.2 1648 867.4ZM1657.8 879.2 1658.3 878.7 1664.3 878.7 1664.8 879.2 1675 896.9 1675 902.9 1674.5 903.4 1668.5 903.4 1668 902.9 1657.8 885.2ZM1668 896.9 1668.5 896.4 1674.5 896.4 1675 896.9 1680.3 914.7 1680.3 920.7 1679.8 921.2 1673.8 921.2 1673.3 920.7 1668 902.9ZM1673.3 914.7 1673.8 914.2 1679.8 914.2 1680.3 914.7 1687.9 932.4 1687.9 938.4 1687.4 938.9 1681.4 938.9 1680.9 938.4 1673.3 920.7ZM1680.9 932.4 1681.4 931.9 1687.4 931.9 1687.9 932.4 1693.2 950.2 1693.2 956.2 1692.7 956.7 1686.7 956.7 1686.2 956.2 1680.9 938.4ZM1686.2 950.2 1686.7 949.7 1692.7 949.7 1693.2 950.2 1698.3 967.9 1698.3 973.9 1697.8 974.4 1691.8 974.4 1691.3 973.9 1686.2 956.2ZM1691.3 967.9 1691.8 967.4 1697.8 967.4 1698.3 967.9 1706.1 985.7 1706.1 991.7 1705.6 992.2 1699.6 992.2 1699.1 991.7 1691.3 973.9ZM1699.1 985.7 1699.6 985.2 1705.6 985.2 1706.1 985.7 1709.4 994.5 1709.4 1000.5 1708.9 1001 1702.9 1001 1702.4 1000.5 1699.1 991.7ZM1702.4 994.5 1702.9 994 1708.9 994 1709.4 994.5 1725.7 1034.7 1725.7 1040.7 1725.2 1041.2 1719.2 1041.2 1718.7 1040.7 1702.4 1000.5ZM1718.7 1034.7 1719.2 1034.2 1725.2 1034.2 1725.7 1034.7 1747.9 1068 1747.9 1074 1747.4 1074.5 1741.4 1074.5 1740.9 1074 1718.7 1040.7ZM1740.9 1068 1741.4 1067.5 1747.4 1067.5 1747.9 1068 1770.1 1103.5 1770.1 1109.5 1769.6 1110 1763.6 1110 1763.1 1109.5 1740.9 1074ZM1763.1 1103.5 1763.6 1103 1769.6 1103 1770.1 1103.5 1792.3 1141.3 1792.3 1147.3 1791.8 1147.8 1785.8 1147.8 1785.3 1147.3 1763.1 1109.5ZM1785.3 1141.3 1785.8 1140.8 1791.8 1140.8 1792.3 1141.3 1814.5 1168 1814.5 1174 1814 1174.5 1808 1174.5 1807.5 1174 1785.3 1147.3ZM1807.5 1168 1808 1167.5 1814 1167.5 1836.2 1185.2 1836.7 1185.7 1836.7 1191.7 1836.2 1192.2 1830.2 1192.2 1808 1174.5 1807.5 1174ZM1829.7 1185.7 1830.2 1185.2 1836.2 1185.2 1858.4 1202.9 1858.9 1203.4 1858.9 1209.4 1858.4 1209.9 1852.4 1209.9 1830.2 1192.2 1829.7 1191.7ZM1851.9 1203.4 1852.4 1202.9 1858.4 1202.9 1880.6 1222.9 1881.1 1223.4 1881.1 1229.4 1880.6 1229.9 1874.6 1229.9 1852.4 1209.9 1851.9 1209.4ZM1874.1 1223.4 1874.6 1222.9 1880.6 1222.9 1902.8 1235.1 1903.3 1235.6 1903.3 1241.6 1902.8 1242.1 1896.8 1242.1 1874.6 1229.9 1874.1 1229.4ZM1896.3 1235.6 1896.8 1235.1 1902.8 1235.1 1925 1245.1 1925.5 1245.6 1925.5 1251.6 1925 1252.1 1919 1252.1 1896.8 1242.1 1896.3 1241.6ZM1918.5 1245.6 1919 1245.1 1925 1245.1 1947.2 1251.8 1947.7 1252.3 1947.7 1258.3 1947.2 1258.8 1941.2 1258.8 1919 1252.1 1918.5 1251.6ZM1940.7 1252.3 1941.2 1251.8 1947.2 1251.8 1969.4 1264 1969.9 1264.5 1969.9 1270.5 1969.4 1271 1963.4 1271 1941.2 1258.8 1940.7 1258.3ZM1962.9 1264.5 1963.4 1264 1969.4 1264 1991.6 1277.3 1992.1 1277.8 1992.1 1283.8 1991.6 1284.3 1985.6 1284.3 1963.4 1271 1962.9 1270.5ZM1985.1 1277.8 1985.6 1277.3 1991.6 1277.3 2013.8 1282.8 2014.3 1283.3 2014.3 1289.3 2013.8 1289.8 2007.8 1289.8 1985.6 1284.3 1985.1 1283.8ZM2007.3 1283.3 2007.8 1282.8 2013.8 1282.8 2036 1287.3 2036.5 1287.8 2036.5 1293.8 2036 1294.3 2030 1294.3 2007.8 1289.8 2007.3 1289.3ZM2029.5 1287.8 2030 1287.3 2036 1287.3 2058.2 1293.9 2058.7 1294.4 2058.7 1300.4 2058.2 1300.9 2052.2 1300.9 2030 1294.3 2029.5 1293.8ZM2051.7 1294.4 2052.2 1293.9 2058.2 1293.9 2080.4 1298.4 2080.9 1298.9 2080.9 1304.9 2080.4 1305.4 2074.4 1305.4 2052.2 1300.9 2051.7 1300.4ZM2073.9 1298.9 2074.4 1298.4 2080.4 1298.4 2096.5 1301.7 2097 1302.2 2097 1308.2 2096.5 1308.7 2090.5 1308.7 2074.4 1305.4 2073.9 1304.9Z" fill="#000000"/>
<path d="M332.8 1333.8 333.3 1333.3 341 1330.9 347 1330.9 347.5 1331.4 347.5 1337.4 347 1337.9 339.3 1340.3 333.3 1340.3 332.8 1339.8ZM340.5 1331.4 341 1330.9 359 1328.5 365 1328.5 365.5 1329 365.5 1335 365 1335.5 347 1337.9 341 1337.9 340.5 1337.4ZM358.5 1329 359 1328.5 387 1326.1 393 1326.1 393.5 1326.6 393.5 1332.6 393 1333.1 365 1335.5 359 1335.5 358.5 1335ZM386.5 1326.6 387 1326.1 405 1323.4 411 1323.4 411.5 1323.9 411.5 1329.9 411 1330.4 393 1333.1 387 1333.1 386.5 1332.6ZM404.5 1323.9 405 1323.4 428 1321 434 1321 434.5 1321.5 434.5 1327.5 434 1328 411 1330.4 405 1330.4 404.5 1329.9ZM427.5 1321.5 428 1321 438.6 1318.3 444.6 1318.3 445.1 1318.8 445.1 1324.8 444.6 1325.3 434 1328 428 1328 427.5 1327.5ZM438.1 1318.8 438.6 1318.3 449 1315.8 455 1315.8 455.5 1316.3 455.5 1322.3 455 1322.8 444.6 1325.3 438.6 1325.3 438.1 1324.8ZM448.5 1316.3 449 1315.8 463.6 1312.2 469.6 1312.2 470.1 1312.7 470.1 1318.7 469.6 1319.2 455 1322.8 449 1322.8 448.5 1322.3ZM463.1 1312.7 463.6 1312.2 490.3 1306.9 496.3 1306.9 496.8 1307.4 496.8 1313.4 496.3 1313.9 469.6 1319.2 463.6 1319.2 463.1 1318.7ZM489.8 1307.4 490.3 1306.9 516.9 1298.3 522.9 1298.3 523.4 1298.8 523.4 1304.8 522.9 1305.3 496.3 1313.9 490.3 1313.9 489.8 1313.4ZM516.4 1298.8 516.9 1298.3 543.5 1296.3 549.5 1296.3 550 1296.8 550 1302.8 549.5 1303.3 522.9 1305.3 516.9 1305.3 516.4 1304.8ZM543 1296.8 543.5 1296.3 570.1 1292.9 576.1 1292.9 576.6 1293.4 576.6 1299.4 576.1 1299.9 549.5 1303.3 543.5 1303.3 543 1302.8ZM569.6 1293.4 570.1 1292.9 596.8 1292.3 602.8 1292.3 603.3 1292.8 603.3 1298.8 602.8 1299.3 576.1 1299.9 570.1 1299.9 569.6 1299.4ZM596.3 1292.8 596.8 1292.3 610.1 1284.3 616.1 1284.3 616.6 1284.8 616.6 1290.8 616.1 1291.3 602.8 1299.3 596.8 1299.3 596.3 1298.8ZM609.6 1284.8 610.1 1284.3 617 1280.3 623 1280.3 623.5 1280.8 623.5 1286.8 623 1287.3 616.1 1291.3 610.1 1291.3 609.6 1290.8ZM616.5 1280.8 617 1280.3 626 1276.5 632 1276.5 632.5 1277 632.5 1283 632 1283.5 623 1287.3 617 1287.3 616.5 1286.8ZM625.5 1277 626 1276.5 644.9 1258.7 650.9 1258.7 651.4 1259.2 651.4 1265.2 650.9 1265.7 632 1283.5 626 1283.5 625.5 1283ZM644.4 1259.2 644.9 1258.7 662.3 1252 668.3 1252 668.8 1252.5 668.8 1258.5 668.3 1259 650.9 1265.7 644.9 1265.7 644.4 1265.2ZM661.8 1252.5 662.3 1252 676.3 1244.4 682.3 1244.4 682.8 1244.9 682.8 1250.9 682.3 1251.4 668.3 1259 662.3 1259 661.8 1258.5ZM675.8 1244.9 676.3 1244.4 690.2 1232.2 696.2 1232.2 696.7 1232.7 696.7 1238.7 696.2 1239.2 682.3 1251.4 676.3 1251.4 675.8 1250.9ZM689.7 1232.7 690.2 1232.2 704.2 1218.6 710.2 1218.6 710.7 1219.1 710.7 1225.1 710.2 1225.6 696.2 1239.2 690.2 1239.2 689.7 1238.7ZM703.7 1219.1 712.5 1209 713 1208.5 719 1208.5 719.5 1209 719.5 1215 710.7 1225.1 710.2 1225.6 704.2 1225.6 703.7 1225.1ZM712.5 1209 725 1192.4 725.5 1191.9 731.5 1191.9 732 1192.4 732 1198.4 719.5 1215 719 1215.5 713 1215.5 712.5 1215ZM725 1192.4 737.7 1170.2 738.2 1169.7 744.2 1169.7 744.7 1170.2 744.7 1176.2 732 1198.4 731.5 1198.9 725.5 1198.9 725 1198.4ZM737.7 1170.2 745.5 1148 746 1147.5 752 1147.5 752.5 1148 752.5 1154 744.7 1176.2 744.2 1176.7 738.2 1176.7 737.7 1176.2ZM745.5 1148 756.8 1125.8 757.3 1125.3 763.3 1125.3 763.8 1125.8 763.8 1131.8 752.5 1154 752 1154.5 746 1154.5 745.5 1154ZM756.8 1125.8 767 1103.6 767.5 1103.1 773.5 1103.1 774 1103.6 774 1109.6 763.8 1131.8 763.3 1132.3 757.3 1132.3 756.8 1131.8ZM767 1103.6 777.9 1081.4 778.4 1080.9 784.4 1080.9 784.9 1081.4 784.9 1087.4 774 1109.6 773.5 1110.1 767.5 1110.1 767 1109.6ZM777.9 1081.4 785.1 1067 785.6 1066.5 791.6 1066.5 792.1 1067 792.1 1073 784.9 1087.4 784.4 1087.9 778.4 1087.9 777.9 1087.4ZM785.1 1067 792 1047 792.5 1046.5 798.5 1046.5 799 1047 799 1053 792.1 1073 791.6 1073.5 785.6 1073.5 785.1 1073ZM792 1047 798.1 1028.9 798.6 1028.4 804.6 1028.4 805.1 1028.9 805.1 1034.9 799 1053 798.5 1053.5 792.5 1053.5 792 1053ZM798.1 1028.9 814.2 985.7 814.7 985.2 820.7 985.2 821.2 985.7 821.2 991.7 805.1 1034.9 804.6 1035.4 798.6 1035.4 798.1 1034.9ZM814.2 985.7 826.1 942.6 826.6 942.1 832.6 942.1 833.1 942.6 833.1 948.6 821.2 991.7 820.7 992.2 814.7 992.2 814.2 991.7ZM826.1 942.6 839 896.4 839.5 895.9 845.5 895.9 846 896.4 846 902.4 833.1 948.6 832.6 949.1 826.6 949.1 826.1 948.6ZM839 896.4 841.5 890.3 842 889.8 848 889.8 848.5 890.3 848.5 896.3 846 902.4 845.5 902.9 839.5 902.9 839 902.4ZM841.5 890.3 844.3 880.8 844.8 880.3 850.8 880.3 851.3 880.8 851.3 886.8 848.5 896.3 848 896.8 842 896.8 841.5 896.3ZM844.3 880.8 846.6 871.2 847.1 870.7 853.1 870.7 853.6 871.2 853.6 877.2 851.3 886.8 850.8 887.3 844.8 887.3 844.3 886.8ZM846.6 871.2 849.4 861.7 849.9 861.2 855.9 861.2 856.4 861.7 856.4 867.7 853.6 877.2 853.1 877.7 847.1 877.7 846.6 877.2ZM849.4 861.7 851.8 850.3 852.3 849.8 858.3 849.8 858.8 850.3 858.8 856.3 856.4 867.7 855.9 868.2 849.9 868.2 849.4 867.7ZM851.8 850.3 854.5 840.8 855 840.3 861 840.3 861.5 840.8 861.5 846.8 858.8 856.3 858.3 856.8 852.3 856.8 851.8 856.3ZM854.5 840.8 855.7 830.3 856.2 829.8 862.2 829.8 862.7 830.3 862.7 836.3 861.5 846.8 861 847.3 855 847.3 854.5 846.8ZM855.7 830.3 860.8 815 861.3 814.5 867.3 814.5 867.8 815 867.8 821 862.7 836.3 862.2 836.8 856.2 836.8 855.7 836.3ZM860.8 815 866 799.8 866.5 799.3 872.5 799.3 873 799.8 873 805.8 867.8 821 867.3 821.5 861.3 821.5 860.8 821ZM866 799.8 868.5 791.2 869 790.7 875 790.7 875.5 791.2 875.5 797.2 873 805.8 872.5 806.3 866.5 806.3 866 805.8ZM868.5 791.2 873.6 775.9 874.1 775.4 880.1 775.4 880.6 775.9 880.6 781.9 875.5 797.2 875 797.7 869 797.7 868.5 797.2ZM873.6 775.9 878.5 760.7 879 760.2 885 760.2 885.5 760.7 885.5 766.7 880.6 781.9 880.1 782.4 874.1 782.4 873.6 781.9ZM878.5 760.7 883.9 745.5 884.4 745 890.4 745 890.9 745.5 890.9 751.5 885.5 766.7 885 767.2 879 767.2 878.5 766.7ZM883.9 745.5 888.8 730.3 889.3 729.8 895.3 729.8 895.8 730.3 895.8 736.3 890.9 751.5 890.4 752 884.4 752 883.9 751.5ZM888.8 730.3 894.4 715 894.9 714.5 900.9 714.5 901.4 715 901.4 721 895.8 736.3 895.3 736.8 889.3 736.8 888.8 736.3ZM894.4 715 899.3 699.8 899.8 699.3 905.8 699.3 906.3 699.8 906.3 705.8 901.4 721 900.9 721.5 894.9 721.5 894.4 721ZM899.3 699.8 904.6 680.8 905.1 680.3 911.1 680.3 911.6 680.8 911.6 686.8 906.3 705.8 905.8 706.3 899.8 706.3 899.3 705.8ZM904.6 680.8 905.8 671.2 906.3 670.7 912.3 670.7 912.8 671.2 912.8 677.2 911.6 686.8 911.1 687.3 905.1 687.3 904.6 686.8ZM905.8 671.2 909.4 655.9 909.9 655.4 915.9 655.4 916.4 655.9 916.4 661.9 912.8 677.2 912.3 677.7 906.3 677.7 905.8 677.2ZM909.4 655.9 913.4 640.7 913.9 640.2 919.9 640.2 920.4 640.7 920.4 646.7 916.4 661.9 915.9 662.4 909.9 662.4 909.4 661.9ZM913.4 640.7 917.2 625.5 917.7 625 923.7 625 924.2 625.5 924.2 631.5 920.4 646.7 919.9 647.2 913.9 647.2 913.4 646.7ZM917.2 625.5 921.2 610.3 921.7 609.8 927.7 609.8 928.2 610.3 928.2 616.3 924.2 631.5 923.7 632 917.7 632 917.2 631.5ZM921.2 610.3 926.2 595 926.7 594.5 932.7 594.5 933.2 595 933.2 601 928.2 616.3 927.7 616.8 921.7 616.8 921.2 616.3ZM926.2 595 930.1 579.8 930.6 579.3 936.6 579.3 937.1 579.8 937.1 585.8 933.2 601 932.7 601.5 926.7 601.5 926.2 601ZM930.1 579.8 936.6 560.8 937.1 560.3 943.1 560.3 943.6 560.8 943.6 566.8 937.1 585.8 936.6 586.3 930.6 586.3 930.1 585.8ZM936.6 560.8 939 546.5 939.5 546 945.5 546 946 546.5 946 552.5 943.6 566.8 943.1 567.3 937.1 567.3 936.6 566.8ZM939 546.5 941.5 535 942 534.5 948 534.5 948.5 535 948.5 541 946 552.5 945.5 553 939.5 553 939 552.5ZM941.5 535 945.5 523.6 946 523.1 952 523.1 952.5 523.6 952.5 529.6 948.5 541 948 541.5 942 541.5 941.5 541ZM945.5 523.6 949.3 512.2 949.8 511.7 955.8 511.7 956.3 512.2 956.3 518.2 952.5 529.6 952 530.1 946 530.1 945.5 529.6ZM949.3 512.2 954.5 498.9 955 498.4 961 498.4 961.5 498.9 961.5 504.9 956.3 518.2 955.8 518.7 949.8 518.7 949.3 518.2ZM954.5 498.9 958 485.8 958.5 485.3 964.5 485.3 965 485.8 965 491.8 961.5 504.9 961 505.4 955 505.4 954.5 504.9ZM958 485.8 960.8 473.1 961.3 472.6 967.3 472.6 967.8 473.1 967.8 479.1 965 491.8 964.5 492.3 958.5 492.3 958 491.8ZM960.8 473.1 966 460.4 966.5 459.9 972.5 459.9 973 460.4 973 466.4 967.8 479.1 967.3 479.6 961.3 479.6 960.8 479.1ZM966 460.4 969.8 447.7 970.3 447.2 976.3 447.2 976.8 447.7 976.8 453.7 973 466.4 972.5 466.9 966.5 466.9 966 466.4ZM969.8 447.7 972.5 435 973 434.5 979 434.5 979.5 435 979.5 441 976.8 453.7 976.3 454.2 970.3 454.2 969.8 453.7ZM972.5 435 974.9 425.5 975.4 425 981.4 425 981.9 425.5 981.9 431.5 979.5 441 979 441.5 973 441.5 972.5 441ZM974.9 425.5 977.4 416 977.9 415.5 983.9 415.5 984.4 416 984.4 422 981.9 431.5 981.4 432 975.4 432 974.9 431.5ZM977.4 416 983.7 403.3 984.2 402.8 990.2 402.8 990.7 403.3 990.7 409.3 984.4 422 983.9 422.5 977.9 422.5 977.4 422ZM983.7 403.3 986.4 394.1 986.9 393.6 992.9 393.6 993.4 394.1 993.4 400.1 990.7 409.3 990.2 409.8 984.2 409.8 983.7 409.3ZM986.4 394.1 989 382.7 989.5 382.2 995.5 382.2 996 382.7 996 388.7 993.4 400.1 992.9 400.6 986.9 400.6 986.4 400.1ZM989 382.7 994.1 371.2 994.6 370.7 1000.6 370.7 1001.1 371.2 1001.1 377.2 996 388.7 995.5 389.2 989.5 389.2 989 388.7ZM994.1 371.2 998.1 359.8 998.6 359.3 1004.6 359.3 1005.1 359.8 1005.1 365.8 1001.1 377.2 1000.6 377.7 994.6 377.7 994.1 377.2ZM998.1 359.8 1004.3 348.4 1004.8 347.9 1010.8 347.9 1011.3 348.4 1011.3 354.4 1005.1 365.8 1004.6 366.3 998.6 366.3 998.1 365.8ZM1004.3 348.4 1009.5 336 1010 335.5 1016 335.5 1016.5 336 1016.5 342 1011.3 354.4 1010.8 354.9 1004.8 354.9 1004.3 354.4ZM1009.5 336 1013.4 326.5 1013.9 326 1019.9 326 1020.4 326.5 1020.4 332.5 1016.5 342 1016 342.5 1010 342.5 1009.5 342ZM1013.4 326.5 1015.8 315 1016.3 314.5 1022.3 314.5 1022.8 315 1022.8 321 1020.4 332.5 1019.9 333 1013.9 333 1013.4 332.5ZM1015.8 315 1019.7 303.6 1020.2 303.1 1026.2 303.1 1026.7 303.6 1026.7 309.6 1022.8 321 1022.3 321.5 1016.3 321.5 1015.8 321ZM1019.7 303.6 1023.5 292.2 1024 291.7 1030 291.7 1030.5 292.2 1030.5 298.2 1026.7 309.6 1026.2 310.1 1020.2 310.1 1019.7 309.6ZM1023.5 292.2 1028.7 280.8 1029.2 280.3 1035.2 280.3 1035.7 280.8 1035.7 286.8 1030.5 298.2 1030 298.7 1024 298.7 1023.5 298.2ZM1028.7 280.8 1031.4 264.4 1031.9 263.9 1037.9 263.9 1038.4 264.4 1038.4 270.4 1035.7 286.8 1035.2 287.3 1029.2 287.3 1028.7 286.8ZM1031.4 264.4 1040.9 241.6 1041.4 241.1 1047.4 241.1 1047.9 241.6 1047.9 247.6 1038.4 270.4 1037.9 270.9 1031.9 270.9 1031.4 270.4ZM1040.9 241.6 1046.5 234 1047 233.5 1053 233.5 1053.5 234 1053.5 240 1047.9 247.6 1047.4 248.1 1041.4 248.1 1040.9 247.6ZM1046.5 234 1055.8 218 1056.3 217.5 1062.3 217.5 1062.8 218 1062.8 224 1053.5 240 1053 240.5 1047 240.5 1046.5 240ZM1055.8 218 1063.5 203.5 1064 203 1070 203 1070.5 203.5 1070.5 209.5 1062.8 224 1062.3 224.5 1056.3 224.5 1055.8 224ZM1063.5 203.5 1064 203 1073 195.3 1079 195.3 1079.5 195.8 1079.5 201.8 1079 202.3 1070 210 1064 210 1063.5 209.5ZM1072.5 195.8 1083.6 179 1084.1 178.5 1090.1 178.5 1090.6 179 1090.6 185 1079.5 201.8 1079 202.3 1073 202.3 1072.5 201.8ZM1083.6 179 1084.1 178.5 1093.4 171.2 1099.4 171.2 1099.9 171.7 1099.9 177.7 1099.4 178.2 1090.1 185.5 1084.1 185.5 1083.6 185ZM1092.9 171.7 1102.2 162.4 1102.7 161.9 1108.7 161.9 1109.2 162.4 1109.2 168.4 1099.9 177.7 1099.4 178.2 1093.4 178.2 1092.9 177.7ZM1102.2 162.4 1102.7 161.9 1112 154.5 1118 154.5 1118.5 155 1118.5 161 1118 161.5 1108.7 168.9 1102.7 168.9 1102.2 168.4ZM1111.5 155 1112 154.5 1121.2 150.7 1127.2 150.7 1127.7 151.2 1127.7 157.2 1127.2 157.7 1118 161.5 1112 161.5 1111.5 161ZM1120.7 151.2 1121.2 150.7 1130.5 145.2 1136.5 145.2 1137 145.7 1137 151.7 1136.5 152.2 1127.2 157.7 1121.2 157.7 1120.7 157.2ZM1130 145.7 1130.5 145.2 1139.8 136.8 1145.8 136.8 1146.3 137.3 1146.3 143.3 1145.8 143.8 1136.5 152.2 1130.5 152.2 1130 151.7ZM1139.3 137.3 1139.8 136.8 1149.1 130.3 1155.1 130.3 1155.6 130.8 1155.6 136.8 1155.1 137.3 1145.8 143.8 1139.8 143.8 1139.3 143.3ZM1148.6 130.8 1156 121.5 1156.5 121 1162.5 121 1163 121.5 1163 127.5 1155.6 136.8 1155.1 137.3 1149.1 137.3 1148.6 136.8ZM1156 121.5 1156.5 121 1162.5 121 1173.6 131.3 1174.1 131.8 1174.1 137.8 1173.6 138.3 1167.6 138.3 1156.5 128 1156 127.5ZM1167.1 131.8 1167.6 131.3 1173.6 131.3 1183 137.8 1183.5 138.3 1183.5 144.3 1183 144.8 1177 144.8 1167.6 138.3 1167.1 137.8ZM1176.5 138.3 1177 137.8 1183 137.8 1183.5 138.3 1189 147.5 1189 153.5 1188.5 154 1182.5 154 1182 153.5 1176.5 144.3ZM1182 147.5 1182.5 147 1188.5 147 1189 147.5 1192.7 162.4 1192.7 168.4 1192.2 168.9 1186.2 168.9 1185.7 168.4 1182 153.5ZM1185.7 162.4 1186.2 161.9 1192.2 161.9 1192.7 162.4 1202 174.4 1202 180.4 1201.5 180.9 1195.5 180.9 1195 180.4 1185.7 168.4ZM1195 174.4 1195.5 173.9 1201.5 173.9 1210.8 174.9 1211.3 175.4 1211.3 181.4 1210.8 181.9 1204.8 181.9 1195.5 180.9 1195 180.4ZM1204.3 175.4 1204.8 174.9 1210.8 174.9 1220 179.5 1220.5 180 1220.5 186 1220 186.5 1214 186.5 1204.8 181.9 1204.3 181.4ZM1213.5 180 1214 179.5 1220 179.5 1220.5 180 1229.8 190.2 1229.8 196.2 1229.3 196.7 1223.3 196.7 1222.8 196.2 1213.5 186ZM1222.8 190.2 1223.3 189.7 1229.3 189.7 1229.8 190.2 1239.1 203.2 1239.1 209.2 1238.6 209.7 1232.6 209.7 1232.1 209.2 1222.8 196.2ZM1232.1 203.2 1232.6 202.7 1238.6 202.7 1239.1 203.2 1248.4 223.6 1248.4 229.6 1247.9 230.1 1241.9 230.1 1241.4 229.6 1232.1 209.2ZM1241.4 223.6 1241.9 223.1 1247.9 223.1 1248.4 223.6 1257.7 240.3 1257.7 246.3 1257.2 246.8 1251.2 246.8 1250.7 246.3 1241.4 229.6ZM1250.7 240.3 1251.2 239.8 1257.2 239.8 1257.7 240.3 1263.2 260.8 1263.2 266.8 1262.7 267.3 1256.7 267.3 1256.2 266.8 1250.7 246.3ZM1256.2 260.8 1256.7 260.3 1262.7 260.3 1275.7 271.4 1276.2 271.9 1276.2 277.9 1275.7 278.4 1269.7 278.4 1256.7 267.3 1256.2 266.8ZM1269.2 271.9 1269.7 271.4 1275.7 271.4 1276.2 271.9 1285.5 284.9 1285.5 290.9 1285 291.4 1279 291.4 1278.5 290.9 1269.2 277.9ZM1278.5 284.9 1279 284.4 1285 284.4 1285.5 284.9 1292.9 297 1292.9 303 1292.4 303.5 1286.4 303.5 1285.9 303 1278.5 290.9ZM1285.9 297 1286.4 296.5 1292.4 296.5 1292.9 297 1302.3 319 1302.3 325 1301.8 325.5 1295.8 325.5 1295.3 325 1285.9 303ZM1295.3 319 1295.8 318.5 1301.8 318.5 1302.3 319 1308.9 326.2 1308.9 332.2 1308.4 332.7 1302.4 332.7 1301.9 332.2 1295.3 325ZM1301.9 326.2 1302.4 325.7 1308.4 325.7 1308.9 326.2 1322 355.3 1322 361.3 1321.5 361.8 1315.5 361.8 1315 361.3 1301.9 332.2ZM1315 355.3 1315.5 354.8 1321.5 354.8 1322 355.3 1333.7 384.5 1333.7 390.5 1333.2 391 1327.2 391 1326.7 390.5 1315 361.3ZM1326.7 384.5 1327.2 384 1333.2 384 1333.7 384.5 1345.4 413.7 1345.4 419.7 1344.9 420.2 1338.9 420.2 1338.4 419.7 1326.7 390.5ZM1338.4 413.7 1338.9 413.2 1344.9 413.2 1345.4 413.7 1359.9 442.8 1359.9 448.8 1359.4 449.3 1353.4 449.3 1352.9 448.8 1338.4 419.7ZM1352.9 442.8 1353.4 442.3 1359.4 442.3 1359.9 442.8 1376 472 1376 478 1375.5 478.5 1369.5 478.5 1369 478 1352.9 448.8ZM1369 472 1369.5 471.5 1375.5 471.5 1376 472 1389.1 501.1 1389.1 507.1 1388.6 507.6 1382.6 507.6 1382.1 507.1 1369 478ZM1382.1 501.1 1382.6 500.6 1388.6 500.6 1389.1 501.1 1399.3 530.3 1399.3 536.3 1398.8 536.8 1392.8 536.8 1392.3 536.3 1382.1 507.1ZM1392.3 530.3 1392.8 529.8 1398.8 529.8 1399.3 530.3 1416.8 559.5 1416.8 565.5 1416.3 566 1410.3 566 1409.8 565.5 1392.3 536.3ZM1409.8 559.5 1410.3 559 1416.3 559 1416.8 559.5 1428.5 588.6 1428.5 594.6 1428 595.1 1422 595.1 1421.5 594.6 1409.8 565.5ZM1421.5 588.6 1422 588.1 1428 588.1 1428.5 588.6 1444.3 618.9 1444.3 624.9 1443.8 625.4 1437.8 625.4 1437.3 624.9 1421.5 594.6ZM1437.3 618.9 1437.8 618.4 1443.8 618.4 1444.3 618.9 1452.1 636 1452.1 642 1451.6 642.5 1445.6 642.5 1445.1 642 1437.3 624.9ZM1445.1 636 1445.6 635.5 1451.6 635.5 1452.1 636 1457.2 647.4 1457.2 653.4 1456.7 653.9 1450.7 653.9 1450.2 653.4 1445.1 642ZM1450.2 647.4 1450.7 646.9 1456.7 646.9 1457.2 647.4 1463.6 655 1463.6 661 1463.1 661.5 1457.1 661.5 1456.6 661 1450.2 653.4ZM1456.6 655 1457.1 654.5 1463.1 654.5 1463.6 655 1473.8 666.5 1473.8 672.5 1473.3 673 1467.3 673 1466.8 672.5 1456.6 661ZM1466.8 666.5 1467.3 666 1473.3 666 1473.8 666.5 1480.3 674.1 1480.3 680.1 1479.8 680.6 1473.8 680.6 1473.3 680.1 1466.8 672.5ZM1473.3 674.1 1473.8 673.6 1479.8 673.6 1480.3 674.1 1489.2 690.8 1489.2 696.8 1488.7 697.3 1482.7 697.3 1482.2 696.8 1473.3 680.1ZM1482.2 690.8 1482.7 690.3 1488.7 690.3 1489.2 690.8 1496.9 702.2 1496.9 708.2 1496.4 708.7 1490.4 708.7 1489.9 708.2 1482.2 696.8ZM1489.9 702.2 1490.4 701.7 1496.4 701.7 1496.9 702.2 1505.9 713.6 1505.9 719.6 1505.4 720.1 1499.4 720.1 1498.9 719.6 1489.9 708.2ZM1498.9 713.6 1499.4 713.1 1505.4 713.1 1505.9 713.6 1510.9 725.1 1510.9 731.1 1510.4 731.6 1504.4 731.6 1503.9 731.1 1498.9 719.6ZM1503.9 725.1 1504.4 724.6 1510.4 724.6 1510.9 725.1 1513.6 736.5 1513.6 742.5 1513.1 743 1507.1 743 1506.6 742.5 1503.9 731.1ZM1506.6 736.5 1507.1 736 1513.1 736 1513.6 736.5 1517.6 746 1517.6 752 1517.1 752.5 1511.1 752.5 1510.6 752 1506.6 742.5ZM1510.6 746 1511.1 745.5 1517.1 745.5 1517.6 746 1531.7 778.7 1531.7 784.7 1531.2 785.2 1525.2 785.2 1524.7 784.7 1510.6 752ZM1524.7 778.7 1525.2 778.2 1531.2 778.2 1531.7 778.7 1546 810.4 1546 816.4 1545.5 816.9 1539.5 816.9 1539 816.4 1524.7 784.7ZM1539 810.4 1539.5 809.9 1545.5 809.9 1546 810.4 1560.2 832.6 1560.2 838.6 1559.7 839.1 1553.7 839.1 1553.2 838.6 1539 816.4ZM1553.2 832.6 1553.7 832.1 1559.7 832.1 1572.4 841.5 1572.9 842 1572.9 848 1572.4 848.5 1566.4 848.5 1553.7 839.1 1553.2 838.6ZM1565.9 842 1566.4 841.5 1572.4 841.5 1572.9 842 1582.1 861.4 1582.1 867.4 1581.6 867.9 1575.6 867.9 1575.1 867.4 1565.9 848ZM1575.1 861.4 1575.6 860.9 1581.6 860.9 1582.1 861.4 1592.3 879.2 1592.3 885.2 1591.8 885.7 1585.8 885.7 1585.3 885.2 1575.1 867.4ZM1585.3 879.2 1585.8 878.7 1591.8 878.7 1592.3 879.2 1601.7 896.9 1601.7 902.9 1601.2 903.4 1595.2 903.4 1594.7 902.9 1585.3 885.2ZM1594.7 896.9 1595.2 896.4 1601.2 896.4 1601.7 896.9 1611.2 914.7 1611.2 920.7 1610.7 921.2 1604.7 921.2 1604.2 920.7 1594.7 902.9ZM1604.2 914.7 1604.7 914.2 1610.7 914.2 1611.2 914.7 1617.4 932.4 1617.4 938.4 1616.9 938.9 1610.9 938.9 1610.4 938.4 1604.2 920.7ZM1610.4 932.4 1610.9 931.9 1616.9 931.9 1617.4 932.4 1628.1 950.2 1628.1 956.2 1627.6 956.7 1621.6 956.7 1621.1 956.2 1610.4 938.4ZM1621.1 950.2 1621.6 949.7 1627.6 949.7 1628.1 950.2 1636.7 967.9 1636.7 973.9 1636.2 974.4 1630.2 974.4 1629.7 973.9 1621.1 956.2ZM1629.7 967.9 1630.2 967.4 1636.2 967.4 1636.7 967.9 1644.3 985.7 1644.3 991.7 1643.8 992.2 1637.8 992.2 1637.3 991.7 1629.7 973.9ZM1637.3 985.7 1637.8 985.2 1643.8 985.2 1644.3 985.7 1652 994.5 1652 1000.5 1651.5 1001 1645.5 1001 1645 1000.5 1637.3 991.7ZM1645 994.5 1645.5 994 1651.5 994 1652 994.5 1669.9 1023.6 1669.9 1029.6 1669.4 1030.1 1663.4 1030.1 1662.9 1029.6 1645 1000.5ZM1662.9 1023.6 1663.4 1023.1 1669.4 1023.1 1669.9 1023.6 1685.5 1045.8 1685.5 1051.8 1685 1052.3 1679 1052.3 1678.5 1051.8 1662.9 1029.6ZM1678.5 1045.8 1679 1045.3 1685 1045.3 1685.5 1045.8 1696.8 1068 1696.8 1074 1696.3 1074.5 1690.3 1074.5 1689.8 1074 1678.5 1051.8ZM1689.8 1068 1690.3 1067.5 1696.3 1067.5 1696.8 1068 1711.4 1090.2 1711.4 1096.2 1710.9 1096.7 1704.9 1096.7 1704.4 1096.2 1689.8 1074ZM1704.4 1090.2 1704.9 1089.7 1710.9 1089.7 1711.4 1090.2 1726.1 1112.4 1726.1 1118.4 1725.6 1118.9 1719.6 1118.9 1719.1 1118.4 1704.4 1096.2ZM1719.1 1112.4 1719.6 1111.9 1725.6 1111.9 1726.1 1112.4 1741.6 1134.6 1741.6 1140.6 1741.1 1141.1 1735.1 1141.1 1734.6 1140.6 1719.1 1118.4ZM1734.6 1134.6 1735.1 1134.1 1741.1 1134.1 1741.6 1134.6 1747.9 1148 1747.9 1154 1747.4 1154.5 1741.4 1154.5 1740.9 1154 1734.6 1140.6ZM1740.9 1148 1741.4 1147.5 1747.4 1147.5 1747.9 1148 1770.1 1172.4 1770.1 1178.4 1769.6 1178.9 1763.6 1178.9 1763.1 1178.4 1740.9 1154ZM1763.1 1172.4 1763.6 1171.9 1769.6 1171.9 1770.1 1172.4 1792.3 1201.2 1792.3 1207.2 1791.8 1207.7 1785.8 1207.7 1785.3 1207.2 1763.1 1178.4ZM1785.3 1201.2 1785.8 1200.7 1791.8 1200.7 1814 1216.3 1814.5 1216.8 1814.5 1222.8 1814 1223.3 1808 1223.3 1785.8 1207.7 1785.3 1207.2ZM1807.5 1216.8 1808 1216.3 1814 1216.3 1836.2 1227.4 1836.7 1227.9 1836.7 1233.9 1836.2 1234.4 1830.2 1234.4 1808 1223.3 1807.5 1222.8ZM1829.7 1227.9 1830.2 1227.4 1836.2 1227.4 1858.4 1238.5 1858.9 1239 1858.9 1245 1858.4 1245.5 1852.4 1245.5 1830.2 1234.4 1829.7 1233.9ZM1851.9 1239 1852.4 1238.5 1858.4 1238.5 1880.6 1247.3 1881.1 1247.8 1881.1 1253.8 1880.6 1254.3 1874.6 1254.3 1852.4 1245.5 1851.9 1245ZM1874.1 1247.8 1874.6 1247.3 1880.6 1247.3 1902.8 1258.5 1903.3 1259 1903.3 1265 1902.8 1265.5 1896.8 1265.5 1874.6 1254.3 1874.1 1253.8ZM1896.3 1259 1896.8 1258.5 1902.8 1258.5 1925 1266.2 1925.5 1266.7 1925.5 1272.7 1925 1273.2 1919 1273.2 1896.8 1265.5 1896.3 1265ZM1918.5 1266.7 1919 1266.2 1925 1266.2 1947.2 1272.9 1947.7 1273.4 1947.7 1279.4 1947.2 1279.9 1941.2 1279.9 1919 1273.2 1918.5 1272.7ZM1940.7 1273.4 1941.2 1272.9 1947.2 1272.9 1969.4 1282.8 1969.9 1283.3 1969.9 1289.3 1969.4 1289.8 1963.4 1289.8 1941.2 1279.9 1940.7 1279.4ZM1962.9 1283.3 1963.4 1282.8 1969.4 1282.8 1991.6 1288.4 1992.1 1288.9 1992.1 1294.9 1991.6 1295.4 1985.6 1295.4 1963.4 1289.8 1962.9 1289.3ZM1985.1 1288.9 1985.6 1288.4 1991.6 1288.4 2013.8 1291.7 2014.3 1292.2 2014.3 1298.2 2013.8 1298.7 2007.8 1298.7 1985.6 1295.4 1985.1 1294.9ZM2007.3 1292.2 2007.8 1291.7 2013.8 1291.7 2036 1296.2 2036.5 1296.7 2036.5 1302.7 2036 1303.2 2030 1303.2 2007.8 1298.7 2007.3 1298.2ZM2029.5 1296.7 2030 1296.2 2036 1296.2 2058.2 1299.5 2058.7 1300 2058.7 1306 2058.2 1306.5 2052.2 1306.5 2030 1303.2 2029.5 1302.7ZM2051.7 1300 2052.2 1299.5 2058.2 1299.5 2080.4 1303.9 2080.9 1304.4 2080.9 1310.4 2080.4 1310.9 2074.4 1310.9 2052.2 1306.5 2051.7 1306ZM2073.9 1304.4 2074.4 1303.9 2080.4 1303.9 2096.5 1308.4 2097 1308.9 2097 1314.9 2096.5 1315.4 2090.5 1315.4 2074.4 1310.9 2073.9 1310.4Z" fill="#ff0000"/>
<path d="M332.8 1337.1 333.3 1336.6 357 1336.6 357.5 1337.1 357.5 1343.1 357 1343.6 333.3 1343.6 332.8 1343.1ZM350.5 1337.1 351 1336.6 357 1334.2 363 1334.2 363.5 1334.7 363.5 1340.7 363 1341.2 357 1343.6 351 1343.6 350.5 1343.1ZM356.5 1334.7 357 1334.2 418.7 1334.2 419.2 1334.7 419.2 1340.7 418.7 1341.2 357 1341.2 356.5 1340.7ZM412.2 1334.7 412.7 1334.2 433 1331.8 439 1331.8 439.5 1332.3 439.5 1338.3 439 1338.8 418.7 1341.2 412.7 1341.2 412.2 1340.7ZM432.5 1332.3 433 1331.8 437 1329 443 1329 443.5 1329.5 443.5 1335.5 443 1336 439 1338.8 433 1338.8 432.5 1338.3ZM436.5 1329.5 437 1329 450.3 1324.2 456.3 1324.2 456.8 1324.7 456.8 1330.7 456.3 1331.2 443 1336 437 1336 436.5 1335.5ZM449.8 1324.7 450.3 1324.2 463.6 1317.5 469.6 1317.5 470.1 1318 470.1 1324 469.6 1324.5 456.3 1331.2 450.3 1331.2 449.8 1330.7ZM463.1 1318 463.6 1317.5 477 1309.6 483 1309.6 483.5 1310.1 483.5 1316.1 483 1316.6 469.6 1324.5 463.6 1324.5 463.1 1324ZM476.5 1310.1 477 1309.6 490.3 1301.6 496.3 1301.6 496.8 1302.1 496.8 1308.1 496.3 1308.6 483 1316.6 477 1316.6 476.5 1316.1ZM489.8 1302.1 490.3 1301.6 503.6 1293.6 509.6 1293.6 510.1 1294.1 510.1 1300.1 509.6 1300.6 496.3 1308.6 490.3 1308.6 489.8 1308.1ZM503.1 1294.1 503.6 1293.6 516.9 1284.3 522.9 1284.3 523.4 1284.8 523.4 1290.8 522.9 1291.3 509.6 1300.6 503.6 1300.6 503.1 1300.1ZM516.4 1284.8 516.9 1284.3 530.2 1272.3 536.2 1272.3 536.7 1272.8 536.7 1278.8 536.2 1279.3 522.9 1291.3 516.9 1291.3 516.4 1290.8ZM529.7 1272.8 536.4 1263.5 536.9 1263 542.9 1263 543.4 1263.5 543.4 1269.5 536.7 1278.8 536.2 1279.3 530.2 1279.3 529.7 1278.8ZM536.4 1263.5 543 1251.5 543.5 1251 549.5 1251 550 1251.5 550 1257.5 543.4 1269.5 542.9 1270 536.9 1270 536.4 1269.5ZM543 1251.5 549.7 1240.8 550.2 1240.3 556.2 1240.3 556.7 1240.8 556.7 1246.8 550 1257.5 549.5 1258 543.5 1258 543 1257.5ZM549.7 1240.8 556.3 1230.2 556.8 1229.7 562.8 1229.7 563.3 1230.2 563.3 1236.2 556.7 1246.8 556.2 1247.3 550.2 1247.3 549.7 1246.8ZM556.3 1230.2 563 1216.9 563.5 1216.4 569.5 1216.4 570 1216.9 570 1222.9 563.3 1236.2 562.8 1236.7 556.8 1236.7 556.3 1236.2ZM563 1216.9 569.6 1203.6 570.1 1203.1 576.1 1203.1 576.6 1203.6 576.6 1209.6 570 1222.9 569.5 1223.4 563.5 1223.4 563 1222.9ZM569.6 1203.6 576.3 1190.3 576.8 1189.8 582.8 1189.8 583.3 1190.3 583.3 1196.3 576.6 1209.6 576.1 1210.1 570.1 1210.1 569.6 1209.6ZM576.3 1190.3 583 1174.3 583.5 1173.8 589.5 1173.8 590 1174.3 590 1180.3 583.3 1196.3 582.8 1196.8 576.8 1196.8 576.3 1196.3ZM583 1174.3 589.6 1159.6 590.1 1159.1 596.1 1159.1 596.6 1159.6 596.6 1165.6 590 1180.3 589.5 1180.8 583.5 1180.8 583 1180.3ZM589.6 1159.6 596.3 1145 596.8 1144.5 602.8 1144.5 603.3 1145 603.3 1151 596.6 1165.6 596.1 1166.1 590.1 1166.1 589.6 1165.6ZM596.3 1145 601.3 1137 601.8 1136.5 607.8 1136.5 608.3 1137 608.3 1143 603.3 1151 602.8 1151.5 596.8 1151.5 596.3 1151ZM601.3 1137 604 1130.2 604.5 1129.7 610.5 1129.7 611 1130.2 611 1136.2 608.3 1143 607.8 1143.5 601.8 1143.5 601.3 1143ZM604 1130.2 615.5 1103.5 616 1103 622 1103 622.5 1103.5 622.5 1109.5 611 1136.2 610.5 1136.7 604.5 1136.7 604 1136.2ZM615.5 1103.5 625.3 1076.9 625.8 1076.4 631.8 1076.4 632.3 1076.9 632.3 1082.9 622.5 1109.5 622 1110 616 1110 615.5 1109.5ZM625.3 1076.9 632 1050.3 632.5 1049.8 638.5 1049.8 639 1050.3 639 1056.3 632.3 1082.9 631.8 1083.4 625.8 1083.4 625.3 1082.9ZM632 1050.3 640.4 1023.6 640.9 1023.1 646.9 1023.1 647.4 1023.6 647.4 1029.6 639 1056.3 638.5 1056.8 632.5 1056.8 632 1056.3ZM640.4 1023.6 647.9 997 648.4 996.5 654.4 996.5 654.9 997 654.9 1003 647.4 1029.6 646.9 1030.1 640.9 1030.1 640.4 1029.6ZM647.9 997 663.5 943.9 664 943.4 670 943.4 670.5 943.9 670.5 949.9 654.9 1003 654.4 1003.5 648.4 1003.5 647.9 1003ZM663.5 943.9 680.2 885 680.7 884.5 686.7 884.5 687.2 885 687.2 891 670.5 949.9 670 950.4 664 950.4 663.5 949.9ZM680.2 885 695.9 826 696.4 825.5 702.4 825.5 702.9 826 702.9 832 687.2 891 686.7 891.5 680.7 891.5 680.2 891ZM695.9 826 712.5 772 713 771.5 719 771.5 719.5 772 719.5 778 702.9 832 702.4 832.5 696.4 832.5 695.9 832ZM712.5 772 722.1 732.1 722.6 731.6 728.6 731.6 729.1 732.1 729.1 738.1 719.5 778 719 778.5 713 778.5 712.5 778ZM722.1 732.1 733.5 681.4 734 680.9 740 680.9 740.5 681.4 740.5 687.4 729.1 738.1 728.6 738.6 722.6 738.6 722.1 738.1ZM733.5 681.4 746.2 630.6 746.7 630.1 752.7 630.1 753.2 630.6 753.2 636.6 740.5 687.4 740 687.9 734 687.9 733.5 687.4ZM746.2 630.6 757.7 579.9 758.2 579.4 764.2 579.4 764.7 579.9 764.7 585.9 753.2 636.6 752.7 637.1 746.7 637.1 746.2 636.6ZM757.7 579.9 764 554.6 764.5 554.1 770.5 554.1 771 554.6 771 560.6 764.7 585.9 764.2 586.4 758.2 586.4 757.7 585.9ZM764 554.6 774.1 529.2 774.6 528.7 780.6 528.7 781.1 529.2 781.1 535.2 771 560.6 770.5 561.1 764.5 561.1 764 560.6ZM774.1 529.2 779.9 514 780.4 513.5 786.4 513.5 786.9 514 786.9 520 781.1 535.2 780.6 535.7 774.6 535.7 774.1 535.2ZM779.9 514 786.5 475 787 474.5 793 474.5 793.5 475 793.5 481 786.9 520 786.4 520.5 780.4 520.5 779.9 520ZM786.5 475 801.5 425 802 424.5 808 424.5 808.5 425 808.5 431 793.5 481 793 481.5 787 481.5 786.5 481ZM801.5 425 814 392 814.5 391.5 820.5 391.5 821 392 821 398 808.5 431 808 431.5 802 431.5 801.5 431ZM814 392 822.2 367 822.7 366.5 828.7 366.5 829.2 367 829.2 373 821 398 820.5 398.5 814.5 398.5 814 398ZM822.2 367 827.9 350 828.4 349.5 834.4 349.5 834.9 350 834.9 356 829.2 373 828.7 373.5 822.7 373.5 822.2 373ZM827.9 350 839.3 336.7 839.8 336.2 845.8 336.2 846.3 336.7 846.3 342.7 834.9 356 834.4 356.5 828.4 356.5 827.9 356ZM839.3 336.7 852.5 312 853 311.5 859 311.5 859.5 312 859.5 318 846.3 342.7 845.8 343.2 839.8 343.2 839.3 342.7ZM852.5 312 862.1 291 862.6 290.5 868.6 290.5 869.1 291 869.1 297 859.5 318 859 318.5 853 318.5 852.5 318ZM862.1 291 871.5 275.8 872 275.3 878 275.3 878.5 275.8 878.5 281.8 869.1 297 868.6 297.5 862.6 297.5 862.1 297ZM871.5 275.8 881.1 254.9 881.6 254.4 887.6 254.4 888.1 254.9 888.1 260.9 878.5 281.8 878 282.3 872 282.3 871.5 281.8ZM881.1 254.9 890.5 234 891 233.5 897 233.5 897.5 234 897.5 240 888.1 260.9 887.6 261.4 881.6 261.4 881.1 260.9ZM890.5 234 898.2 216.8 898.7 216.3 904.7 216.3 905.2 216.8 905.2 222.8 897.5 240 897 240.5 891 240.5 890.5 240ZM898.2 216.8 898.7 216.3 910.2 208.7 916.2 208.7 916.7 209.2 916.7 215.2 916.2 215.7 904.7 223.3 898.7 223.3 898.2 222.8ZM909.7 209.2 910.2 208.7 929.2 196.4 935.2 196.4 935.7 196.9 935.7 202.9 935.2 203.4 916.2 215.7 910.2 215.7 909.7 215.2ZM928.7 196.9 938.2 176.9 938.7 176.4 944.7 176.4 945.2 176.9 945.2 182.9 935.7 202.9 935.2 203.4 929.2 203.4 928.7 202.9ZM938.2 176.9 938.7 176.4 948.2 169.7 954.2 169.7 954.7 170.2 954.7 176.2 954.2 176.7 944.7 183.4 938.7 183.4 938.2 182.9ZM947.7 170.2 957.2 152.2 957.7 151.7 963.7 151.7 964.2 152.2 964.2 158.2 954.7 176.2 954.2 176.7 948.2 176.7 947.7 176.2ZM957.2 152.2 966.7 139.8 967.2 139.3 973.2 139.3 973.7 139.8 973.7 145.8 964.2 158.2 963.7 158.7 957.7 158.7 957.2 158.2ZM966.7 139.8 967.2 139.3 974.8 134.5 980.8 134.5 981.3 135 981.3 141 980.8 141.5 973.2 146.3 967.2 146.3 966.7 145.8ZM974.3 135 974.8 134.5 980.8 134.5 992.2 144.1 992.7 144.6 992.7 150.6 992.2 151.1 986.2 151.1 974.8 141.5 974.3 141ZM985.7 144.6 986.2 144.1 992.2 144.1 992.7 144.6 1002.3 159.8 1002.3 165.8 1001.8 166.3 995.8 166.3 995.3 165.8 985.7 150.6ZM995.3 159.8 995.8 159.3 1001.8 159.3 1011.3 165 1011.8 165.5 1011.8 171.5 1011.3 172 1005.3 172 995.8 166.3 995.3 165.8ZM1004.8 165.5 1005.3 165 1011.3 165 1020.8 170.7 1021.3 171.2 1021.3 177.2 1020.8 177.7 1014.8 177.7 1005.3 172 1004.8 171.5ZM1014.3 171.2 1014.8 170.7 1020.8 170.7 1021.3 171.2 1028.9 180.7 1028.9 186.7 1028.4 187.2 1022.4 187.2 1021.9 186.7 1014.3 177.2ZM1021.9 180.7 1022.4 180.2 1037.9 180.2 1038.4 180.7 1038.4 186.7 1037.9 187.2 1022.4 187.2 1021.9 186.7ZM1031.4 180.7 1031.9 180.2 1037.9 180.2 1038.4 180.7 1049.8 194 1049.8 200 1049.3 200.5 1043.3 200.5 1042.8 200 1031.4 186.7ZM1042.8 194 1043.3 193.5 1049.3 193.5 1058.8 202.1 1059.3 202.6 1059.3 208.6 1058.8 209.1 1052.8 209.1 1043.3 200.5 1042.8 200ZM1052.3 202.6 1052.8 202.1 1058.8 202.1 1068.3 208.7 1068.8 209.2 1068.8 215.2 1068.3 215.7 1062.3 215.7 1052.8 209.1 1052.3 208.6ZM1061.8 209.2 1062.3 208.7 1068.3 208.7 1084 211.3 1084.5 211.8 1084.5 217.8 1084 218.3 1078 218.3 1062.3 215.7 1061.8 215.2ZM1077.5 211.8 1078 211.3 1084 211.3 1084.5 211.8 1090.6 219.9 1090.6 225.9 1090.1 226.4 1084.1 226.4 1083.6 225.9 1077.5 217.8ZM1083.6 219.9 1084.1 219.4 1090.1 219.4 1099.4 228.7 1099.9 229.2 1099.9 235.2 1099.4 235.7 1093.4 235.7 1084.1 226.4 1083.6 225.9ZM1092.9 229.2 1093.4 228.7 1099.4 228.7 1099.9 229.2 1109.2 242.2 1109.2 248.2 1108.7 248.7 1102.7 248.7 1102.2 248.2 1092.9 235.2ZM1102.2 242.2 1102.7 241.7 1108.7 241.7 1109.2 242.2 1112.9 255.2 1112.9 261.2 1112.4 261.7 1106.4 261.7 1105.9 261.2 1102.2 248.2ZM1105.9 255.2 1106.4 254.7 1112.4 254.7 1112.9 255.2 1118.5 271.9 1118.5 277.9 1118 278.4 1112 278.4 1111.5 277.9 1105.9 261.2ZM1111.5 271.9 1112 271.4 1118 271.4 1118.5 271.9 1125 287 1125 293 1124.5 293.5 1118.5 293.5 1118 293 1111.5 277.9ZM1118 287 1118.5 286.5 1124.5 286.5 1125 287 1132.7 304.8 1132.7 310.8 1132.2 311.3 1126.2 311.3 1125.7 310.8 1118 293ZM1125.7 304.8 1126.2 304.3 1132.2 304.3 1132.7 304.8 1146.9 322.5 1146.9 328.5 1146.4 329 1140.4 329 1139.9 328.5 1125.7 310.8ZM1139.9 322.5 1140.4 322 1146.4 322 1146.9 322.5 1160.3 340.3 1160.3 346.3 1159.8 346.8 1153.8 346.8 1153.3 346.3 1139.9 328.5ZM1153.3 340.3 1153.8 339.8 1159.8 339.8 1160.3 340.3 1170 358 1170 364 1169.5 364.5 1163.5 364.5 1163 364 1153.3 346.3ZM1163 358 1163.5 357.5 1169.5 357.5 1170 358 1182.4 375.8 1182.4 381.8 1181.9 382.3 1175.9 382.3 1175.4 381.8 1163 364ZM1175.4 375.8 1175.9 375.3 1181.9 375.3 1182.4 375.8 1188.7 393.5 1188.7 399.5 1188.2 400 1182.2 400 1181.7 399.5 1175.4 381.8ZM1181.7 393.5 1182.2 393 1188.2 393 1188.7 393.5 1195.8 411.3 1195.8 417.3 1195.3 417.8 1189.3 417.8 1188.8 417.3 1181.7 399.5ZM1188.8 411.3 1189.3 410.8 1195.3 410.8 1195.8 411.3 1203.7 429 1203.7 435 1203.2 435.5 1197.2 435.5 1196.7 435 1188.8 417.3ZM1196.7 429 1197.2 428.5 1203.2 428.5 1203.7 429 1209.1 446.8 1209.1 452.8 1208.6 453.3 1202.6 453.3 1202.1 452.8 1196.7 435ZM1202.1 446.8 1202.6 446.3 1208.6 446.3 1209.1 446.8 1216.2 464.5 1216.2 470.5 1215.7 471 1209.7 471 1209.2 470.5 1202.1 452.8ZM1209.2 464.5 1209.7 464 1215.7 464 1216.2 464.5 1221.5 482.3 1221.5 488.3 1221 488.8 1215 488.8 1214.5 488.3 1209.2 470.5ZM1214.5 482.3 1215 481.8 1221 481.8 1221.5 482.3 1229.5 500 1229.5 506 1229 506.5 1223 506.5 1222.5 506 1214.5 488.3ZM1222.5 500 1223 499.5 1229 499.5 1229.5 500 1239.3 517.8 1239.3 523.8 1238.8 524.3 1232.8 524.3 1232.3 523.8 1222.5 506ZM1232.3 517.8 1232.8 517.3 1238.8 517.3 1239.3 517.8 1248.1 535.5 1248.1 541.5 1247.6 542 1241.6 542 1241.1 541.5 1232.3 523.8ZM1241.1 535.5 1241.6 535 1247.6 535 1248.1 535.5 1256.8 550 1256.8 556 1256.3 556.5 1250.3 556.5 1249.8 556 1241.1 541.5ZM1249.8 550 1250.3 549.5 1256.3 549.5 1256.8 550 1269.5 588.6 1269.5 594.6 1269 595.1 1263 595.1 1262.5 594.6 1249.8 556ZM1262.5 588.6 1263 588.1 1269 588.1 1269.5 588.6 1282.7 617.8 1282.7 623.8 1282.2 624.3 1276.2 624.3 1275.7 623.8 1262.5 594.6ZM1275.7 617.8 1276.2 617.3 1282.2 617.3 1282.7 617.8 1295.8 647 1295.8 653 1295.3 653.5 1289.3 653.5 1288.8 653 1275.7 623.8ZM1288.8 647 1289.3 646.5 1295.3 646.5 1295.8 647 1311.8 676.1 1311.8 682.1 1311.3 682.6 1305.3 682.6 1304.8 682.1 1288.8 653ZM1304.8 676.1 1305.3 675.6 1311.3 675.6 1311.8 676.1 1325 705.3 1325 711.3 1324.5 711.8 1318.5 711.8 1318 711.3 1304.8 682.1ZM1318 705.3 1318.5 704.8 1324.5 704.8 1325 705.3 1338.1 734.4 1338.1 740.4 1337.6 740.9 1331.6 740.9 1331.1 740.4 1318 711.3ZM1331.1 734.4 1331.6 733.9 1337.6 733.9 1338.1 734.4 1347.5 749 1347.5 755 1347 755.5 1341 755.5 1340.5 755 1331.1 740.4ZM1340.5 749 1341 748.5 1347 748.5 1347.5 749 1366.9 778.7 1366.9 784.7 1366.4 785.2 1360.4 785.2 1359.9 784.7 1340.5 755ZM1359.9 778.7 1360.4 778.2 1366.4 778.2 1366.9 778.7 1387.5 810.4 1387.5 816.4 1387 816.9 1381 816.9 1380.5 816.4 1359.9 784.7ZM1380.5 810.4 1381 809.9 1387 809.9 1387.5 810.4 1401.8 842 1401.8 848 1401.3 848.5 1395.3 848.5 1394.8 848 1380.5 816.4ZM1394.8 842 1395.3 841.5 1401.3 841.5 1401.8 842 1422.4 873.8 1422.4 879.8 1421.9 880.3 1415.9 880.3 1415.4 879.8 1394.8 848ZM1415.4 873.8 1415.9 873.3 1421.9 873.3 1422.4 873.8 1439.8 905.5 1439.8 911.5 1439.3 912 1433.3 912 1432.8 911.5 1415.4 879.8ZM1432.8 905.5 1433.3 905 1439.3 905 1439.8 905.5 1468.3 937.2 1468.3 943.2 1467.8 943.7 1461.8 943.7 1461.3 943.2 1432.8 911.5ZM1461.3 937.2 1461.8 936.7 1467.8 936.7 1468.3 937.2 1490.5 968.9 1490.5 974.9 1490 975.4 1484 975.4 1483.5 974.9 1461.3 943.2ZM1483.5 968.9 1484 968.4 1490 968.4 1490.5 968.9 1509.5 1000.6 1509.5 1006.6 1509 1007.1 1503 1007.1 1502.5 1006.6 1483.5 974.9ZM1502.5 1000.6 1503 1000.1 1509 1000.1 1534.4 1022.3 1534.9 1022.8 1534.9 1028.8 1534.4 1029.3 1528.4 1029.3 1503 1007.1 1502.5 1006.6ZM1527.9 1022.8 1528.4 1022.3 1534.4 1022.3 1534.9 1022.8 1557.1 1048 1557.1 1054 1556.6 1054.5 1550.6 1054.5 1550.1 1054 1527.9 1028.8ZM1550.1 1048 1550.6 1047.5 1556.6 1047.5 1557.1 1048 1579.3 1079.8 1579.3 1085.8 1578.8 1086.3 1572.8 1086.3 1572.3 1085.8 1550.1 1054ZM1572.3 1079.8 1572.8 1079.3 1578.8 1079.3 1579.3 1079.8 1604.6 1111.5 1604.6 1117.5 1604.1 1118 1598.1 1118 1597.6 1117.5 1572.3 1085.8ZM1597.6 1111.5 1598.1 1111 1604.1 1111 1630 1136.9 1630 1142.9 1629.5 1143.4 1623.5 1143.4 1597.6 1117.5ZM1623 1136.9 1623.5 1136.4 1629.5 1136.4 1651.7 1155.4 1652.2 1155.9 1652.2 1161.9 1651.7 1162.4 1645.7 1162.4 1623.5 1143.4 1623 1142.9ZM1645.2 1155.9 1645.7 1155.4 1651.7 1155.4 1673.8 1174.4 1674.3 1174.9 1674.3 1180.9 1673.8 1181.4 1667.8 1181.4 1645.7 1162.4 1645.2 1161.9ZM1667.3 1174.9 1667.8 1174.4 1673.8 1174.4 1699.2 1199.7 1699.7 1200.2 1699.7 1206.2 1699.2 1206.7 1693.2 1206.7 1667.8 1181.4 1667.3 1180.9ZM1692.7 1200.2 1693.2 1199.7 1699.2 1199.7 1699.7 1200.2 1703.5 1204.5 1703.5 1210.5 1703 1211 1697 1211 1696.5 1210.5 1692.7 1206.2ZM1696.5 1204.5 1697 1204 1703 1204 1725.2 1225.1 1725.7 1225.6 1725.7 1231.6 1725.2 1232.1 1719.2 1232.1 1697 1211 1696.5 1210.5ZM1718.7 1225.6 1719.2 1225.1 1725.2 1225.1 1747.4 1237.3 1747.9 1237.8 1747.9 1243.8 1747.4 1244.3 1741.4 1244.3 1719.2 1232.1 1718.7 1231.6ZM1740.9 1237.8 1741.4 1237.3 1747.4 1237.3 1769.6 1249.5 1770.1 1250 1770.1 1256 1769.6 1256.5 1763.6 1256.5 1741.4 1244.3 1740.9 1243.8ZM1763.1 1250 1763.6 1249.5 1769.6 1249.5 1791.8 1261.8 1792.3 1262.3 1792.3 1268.3 1791.8 1268.8 1785.8 1268.8 1763.6 1256.5 1763.1 1256ZM1785.3 1262.3 1785.8 1261.8 1791.8 1261.8 1814 1268.4 1814.5 1268.9 1814.5 1274.9 1814 1275.4 1808 1275.4 1785.8 1268.8 1785.3 1268.3ZM1807.5 1268.9 1808 1268.4 1814 1268.4 1836.2 1276.2 1836.7 1276.7 1836.7 1282.7 1836.2 1283.2 1830.2 1283.2 1808 1275.4 1807.5 1274.9ZM1829.7 1276.7 1830.2 1276.2 1836.2 1276.2 1858.4 1286.2 1858.9 1286.7 1858.9 1292.7 1858.4 1293.2 1852.4 1293.2 1830.2 1283.2 1829.7 1282.7ZM1851.9 1286.7 1852.4 1286.2 1858.4 1286.2 1880.6 1290.6 1881.1 1291.1 1881.1 1297.1 1880.6 1297.6 1874.6 1297.6 1852.4 1293.2 1851.9 1292.7ZM1874.1 1291.1 1874.6 1290.6 1880.6 1290.6 1902.8 1292.8 1903.3 1293.3 1903.3 1299.3 1902.8 1299.8 1896.8 1299.8 1874.6 1297.6 1874.1 1297.1ZM1896.3 1293.3 1896.8 1292.8 1902.8 1292.8 1925 1298.4 1925.5 1298.9 1925.5 1304.9 1925 1305.4 1919 1305.4 1896.8 1299.8 1896.3 1299.3ZM1918.5 1298.9 1919 1298.4 1925 1298.4 1947.2 1303.9 1947.7 1304.4 1947.7 1310.4 1947.2 1310.9 1941.2 1310.9 1919 1305.4 1918.5 1304.9ZM1940.7 1304.4 1941.2 1303.9 1947.2 1303.9 1969.4 1306.2 1969.9 1306.7 1969.9 1312.7 1969.4 1313.2 1963.4 1313.2 1941.2 1310.9 1940.7 1310.4ZM1962.9 1306.7 1963.4 1306.2 1969.4 1306.2 1991.6 1309.5 1992.1 1310 1992.1 1316 1991.6 1316.5 1985.6 1316.5 1963.4 1313.2 1962.9 1312.7ZM1985.1 1310 1985.6 1309.5 1991.6 1309.5 2013.8 1312.8 2014.3 1313.3 2014.3 1319.3 2013.8 1319.8 2007.8 1319.8 1985.6 1316.5 1985.1 1316ZM2007.3 1313.3 2007.8 1312.8 2013.8 1312.8 2036 1315 2036.5 1315.5 2036.5 1321.5 2036 1322 2030 1322 2007.8 1319.8 2007.3 1319.3ZM2029.5 1315.5 2030 1315 2036 1315 2058.2 1318.4 2058.7 1318.9 2058.7 1324.9 2058.2 1325.4 2052.2 1325.4 2030 1322 2029.5 1321.5ZM2051.7 1318.9 2052.2 1318.4 2058.2 1318.4 2080.4 1321.7 2080.9 1322.2 2080.9 1328.2 2080.4 1328.7 2074.4 1328.7 2052.2 1325.4 2051.7 1324.9ZM2073.9 1322.2 2074.4 1321.7 2080.4 1321.7 2096.5 1322.8 2097 1323.3 2097 1329.3 2096.5 1329.8 2090.5 1329.8 2074.4 1328.7 2073.9 1328.2Z" fill="#940086"/>
</g>
<g fill="#000">
<rect x="334" y="42" width="5" height="1312"/>
<rect x="334" y="1349" width="1763" height="5"/>
<rect x="311" y="104" width="23" height="5"/>
<rect x="311" y="411.6" width="23" height="5"/>
<rect x="311" y="718.9" width="23" height="5"/>
<rect x="311" y="1028.9" width="23" height="5"/>
<rect x="311" y="1336.3" width="23" height="5"/>
<rect x="324" y="257.5" width="10" height="5"/>
<rect x="324" y="565.2" width="10" height="5"/>
<rect x="324" y="873.9" width="10" height="5"/>
<rect x="324" y="1182.5" width="10" height="5"/>
<rect x="626" y="1354" width="5" height="26"/>
<rect x="992.5" y="1354" width="5" height="26"/>
<rect x="1359" y="1354" width="5" height="26"/>
<rect x="1725.5" y="1354" width="5" height="26"/>
<rect x="2092" y="1354" width="5" height="26"/>
<rect x="444" y="1354" width="5" height="13"/>
<rect x="810.5" y="1354" width="5" height="13"/>
<rect x="1177" y="1354" width="5" height="13"/>
<rect x="1543.5" y="1354" width="5" height="13"/>
<rect x="1910" y="1354" width="5" height="13"/>
</g>
<g font-size="56" text-anchor="end">
<text transform="translate(292.5 121.1) scale(0.98 1.068)">1.00</text>
<text transform="translate(292.5 428.5) scale(0.98 1.068)">0.75</text>
<text transform="translate(292.5 738.5) scale(0.98 1.068)">0.50</text>
<text transform="translate(292.5 1046.1) scale(0.98 1.068)">0.25</text>
<text transform="translate(292.5 1356.1) scale(0.98 1.068)">0.00</text>
</g>
<g font-size="56" text-anchor="middle">
<text transform="translate(627.8 1435.8) scale(1 1.07)">400</text>
<text transform="translate(994.3 1435.8) scale(1 1.07)">450</text>
<text transform="translate(1360.8 1435.8) scale(1 1.07)">500</text>
<text transform="translate(1727.4 1435.8) scale(1 1.07)">550</text>
<text transform="translate(2093.9 1435.8) scale(1 1.07)">600</text>
</g>
<text transform="translate(1216.5 1543.8) scale(1.01 1.056)" font-size="67" text-anchor="middle">Wavelength (nm)</text>
<text transform="translate(86 708) rotate(-90) scale(1.007 1.06)" font-size="67" text-anchor="middle">Normalized FL intnesity</text>
<rect x="1629.25" y="53.75" width="435.5" height="329.5" fill="none" stroke="#000" stroke-width="2.5"/>
<rect x="1643" y="93.5" width="159" height="7" fill="#0000ff"/>
<text transform="translate(1813 118.7) scale(1.034 1.04)" font-size="67">Luminol</text>
<rect x="1643" y="175.7" width="159" height="7" fill="#000000"/>
<text transform="translate(1815 200.9) scale(1 1.058)" font-size="67" font-weight="bold">6a</text>
<rect x="1643" y="260.2" width="159" height="7" fill="#ff0000"/>
<text transform="translate(1815 285.4) scale(1 1.058)" font-size="67" font-weight="bold">6c</text>
<rect x="1643" y="342.4" width="159" height="7" fill="#940086"/>
<text transform="translate(1815 366.9) scale(1 1.058)" font-size="67" font-weight="bold">6j</text>
</svg></body></html>
